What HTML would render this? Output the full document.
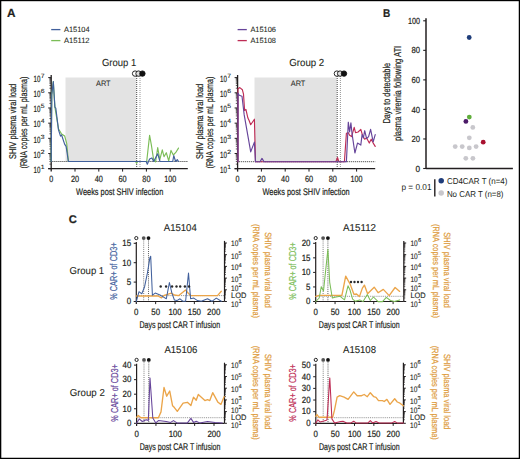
<!DOCTYPE html>
<html><head><meta charset="utf-8"><style>
html,body{margin:0;padding:0;background:#fff;}
svg{display:block;}
text{font-family:"Liberation Sans",sans-serif;text-rendering:geometricPrecision;}
</style></head><body>
<svg width="520" height="459" viewBox="0 0 520 459"><g fill="#231f20">
<rect x="0" y="0" width="520" height="459" fill="#000"/>
<rect x="1.3" y="1.2" width="517.45" height="456.55" fill="#fff"/>
<text x="7" y="16.8" font-size="11.8" font-weight="bold" stroke="#231f20" stroke-width="0.2">A</text>
<text x="383" y="16.5" font-size="11.4" textLength="7.3" lengthAdjust="spacingAndGlyphs" font-weight="bold" stroke="#231f20" stroke-width="0.2">B</text>
<text x="68.8" y="223.2" font-size="11.2" font-weight="bold" stroke="#231f20" stroke-width="0.2">C</text>
<line x1="51.2" y1="29.6" x2="60.4" y2="29.6" stroke="#41609c" stroke-width="1.3" stroke-linecap="butt"/>
<text x="64" y="32" font-size="7.5" textLength="25.6" lengthAdjust="spacingAndGlyphs" stroke="#231f20" stroke-width="0.08">A15104</text>
<line x1="51.2" y1="40.6" x2="60.4" y2="40.6" stroke="#7bbd57" stroke-width="1.3" stroke-linecap="butt"/>
<text x="64" y="43" font-size="7.5" textLength="25.6" lengthAdjust="spacingAndGlyphs" stroke="#231f20" stroke-width="0.08">A15112</text>
<text x="119.05" y="66.3" font-size="10.2" text-anchor="middle" textLength="34.3" lengthAdjust="spacingAndGlyphs" stroke="#231f20" stroke-width="0.08">Group 1</text>
<rect x="65.5" y="77.5" width="70.8" height="84" fill="#e3e3e3"/>
<text x="103.3" y="86" font-size="7.9" text-anchor="middle" textLength="14.6" lengthAdjust="spacingAndGlyphs">ART</text>
<line x1="52.4" y1="161.5" x2="187.8" y2="161.5" stroke="#222" stroke-width="0.95" stroke-linecap="butt" stroke-dasharray="1 1"/>
<line x1="136.7" y1="76" x2="136.7" y2="168.7" stroke="#333" stroke-width="0.9" stroke-linecap="butt" stroke-dasharray="1 1"/>
<line x1="140" y1="76" x2="140" y2="168.7" stroke="#8a8a8a" stroke-width="0.9" stroke-linecap="butt" stroke-dasharray="1 1"/>
<circle cx="135.1" cy="73.6" r="2.7" fill="#fff" stroke="#111" stroke-width="0.9"/>
<circle cx="138.5" cy="73.6" r="2.7" fill="#ddd" stroke="#111" stroke-width="0.9"/>
<circle cx="142.4" cy="73.6" r="2.7" fill="#111" stroke="#111" stroke-width="0.9"/>
<line x1="51.2" y1="75" x2="51.2" y2="171.6" stroke="#231f20" stroke-width="1.3" stroke-linecap="butt"/>
<line x1="48.2" y1="168.7" x2="187.8" y2="168.7" stroke="#231f20" stroke-width="1.3" stroke-linecap="butt"/>
<line x1="48.2" y1="168.7" x2="51.2" y2="168.7" stroke="#231f20" stroke-width="1" stroke-linecap="butt"/>
<text x="33.6" y="173" font-size="9" textLength="6.9" lengthAdjust="spacingAndGlyphs" stroke="#231f20" stroke-width="0.2">10</text>
<text x="40.8" y="169" font-size="6" textLength="3.8" lengthAdjust="spacingAndGlyphs" stroke="#231f20" stroke-width="0.1">1</text>
<line x1="49.4" y1="164.13" x2="51.2" y2="164.13" stroke="#231f20" stroke-width="0.7" stroke-linecap="butt"/>
<line x1="49.4" y1="161.46" x2="51.2" y2="161.46" stroke="#231f20" stroke-width="0.7" stroke-linecap="butt"/>
<line x1="49.4" y1="159.56" x2="51.2" y2="159.56" stroke="#231f20" stroke-width="0.7" stroke-linecap="butt"/>
<line x1="49.4" y1="158.09" x2="51.2" y2="158.09" stroke="#231f20" stroke-width="0.7" stroke-linecap="butt"/>
<line x1="49.4" y1="156.89" x2="51.2" y2="156.89" stroke="#231f20" stroke-width="0.7" stroke-linecap="butt"/>
<line x1="49.4" y1="155.87" x2="51.2" y2="155.87" stroke="#231f20" stroke-width="0.7" stroke-linecap="butt"/>
<line x1="49.4" y1="154.99" x2="51.2" y2="154.99" stroke="#231f20" stroke-width="0.7" stroke-linecap="butt"/>
<line x1="49.4" y1="154.21" x2="51.2" y2="154.21" stroke="#231f20" stroke-width="0.7" stroke-linecap="butt"/>
<line x1="48.2" y1="153.52" x2="51.2" y2="153.52" stroke="#231f20" stroke-width="1" stroke-linecap="butt"/>
<text x="33.6" y="157.82" font-size="9" textLength="6.9" lengthAdjust="spacingAndGlyphs" stroke="#231f20" stroke-width="0.2">10</text>
<text x="40.8" y="153.82" font-size="6" textLength="3.8" lengthAdjust="spacingAndGlyphs" stroke="#231f20" stroke-width="0.1">2</text>
<line x1="49.4" y1="148.95" x2="51.2" y2="148.95" stroke="#231f20" stroke-width="0.7" stroke-linecap="butt"/>
<line x1="49.4" y1="146.28" x2="51.2" y2="146.28" stroke="#231f20" stroke-width="0.7" stroke-linecap="butt"/>
<line x1="49.4" y1="144.38" x2="51.2" y2="144.38" stroke="#231f20" stroke-width="0.7" stroke-linecap="butt"/>
<line x1="49.4" y1="142.91" x2="51.2" y2="142.91" stroke="#231f20" stroke-width="0.7" stroke-linecap="butt"/>
<line x1="49.4" y1="141.71" x2="51.2" y2="141.71" stroke="#231f20" stroke-width="0.7" stroke-linecap="butt"/>
<line x1="49.4" y1="140.69" x2="51.2" y2="140.69" stroke="#231f20" stroke-width="0.7" stroke-linecap="butt"/>
<line x1="49.4" y1="139.81" x2="51.2" y2="139.81" stroke="#231f20" stroke-width="0.7" stroke-linecap="butt"/>
<line x1="49.4" y1="139.03" x2="51.2" y2="139.03" stroke="#231f20" stroke-width="0.7" stroke-linecap="butt"/>
<line x1="48.2" y1="138.34" x2="51.2" y2="138.34" stroke="#231f20" stroke-width="1" stroke-linecap="butt"/>
<text x="33.6" y="142.64" font-size="9" textLength="6.9" lengthAdjust="spacingAndGlyphs" stroke="#231f20" stroke-width="0.2">10</text>
<text x="40.8" y="138.64" font-size="6" textLength="3.8" lengthAdjust="spacingAndGlyphs" stroke="#231f20" stroke-width="0.1">3</text>
<line x1="49.4" y1="133.77" x2="51.2" y2="133.77" stroke="#231f20" stroke-width="0.7" stroke-linecap="butt"/>
<line x1="49.4" y1="131.1" x2="51.2" y2="131.1" stroke="#231f20" stroke-width="0.7" stroke-linecap="butt"/>
<line x1="49.4" y1="129.2" x2="51.2" y2="129.2" stroke="#231f20" stroke-width="0.7" stroke-linecap="butt"/>
<line x1="49.4" y1="127.73" x2="51.2" y2="127.73" stroke="#231f20" stroke-width="0.7" stroke-linecap="butt"/>
<line x1="49.4" y1="126.53" x2="51.2" y2="126.53" stroke="#231f20" stroke-width="0.7" stroke-linecap="butt"/>
<line x1="49.4" y1="125.51" x2="51.2" y2="125.51" stroke="#231f20" stroke-width="0.7" stroke-linecap="butt"/>
<line x1="49.4" y1="124.63" x2="51.2" y2="124.63" stroke="#231f20" stroke-width="0.7" stroke-linecap="butt"/>
<line x1="49.4" y1="123.85" x2="51.2" y2="123.85" stroke="#231f20" stroke-width="0.7" stroke-linecap="butt"/>
<line x1="48.2" y1="123.16" x2="51.2" y2="123.16" stroke="#231f20" stroke-width="1" stroke-linecap="butt"/>
<text x="33.6" y="127.46" font-size="9" textLength="6.9" lengthAdjust="spacingAndGlyphs" stroke="#231f20" stroke-width="0.2">10</text>
<text x="40.8" y="123.46" font-size="6" textLength="3.8" lengthAdjust="spacingAndGlyphs" stroke="#231f20" stroke-width="0.1">4</text>
<line x1="49.4" y1="118.59" x2="51.2" y2="118.59" stroke="#231f20" stroke-width="0.7" stroke-linecap="butt"/>
<line x1="49.4" y1="115.92" x2="51.2" y2="115.92" stroke="#231f20" stroke-width="0.7" stroke-linecap="butt"/>
<line x1="49.4" y1="114.02" x2="51.2" y2="114.02" stroke="#231f20" stroke-width="0.7" stroke-linecap="butt"/>
<line x1="49.4" y1="112.55" x2="51.2" y2="112.55" stroke="#231f20" stroke-width="0.7" stroke-linecap="butt"/>
<line x1="49.4" y1="111.35" x2="51.2" y2="111.35" stroke="#231f20" stroke-width="0.7" stroke-linecap="butt"/>
<line x1="49.4" y1="110.33" x2="51.2" y2="110.33" stroke="#231f20" stroke-width="0.7" stroke-linecap="butt"/>
<line x1="49.4" y1="109.45" x2="51.2" y2="109.45" stroke="#231f20" stroke-width="0.7" stroke-linecap="butt"/>
<line x1="49.4" y1="108.67" x2="51.2" y2="108.67" stroke="#231f20" stroke-width="0.7" stroke-linecap="butt"/>
<line x1="48.2" y1="107.98" x2="51.2" y2="107.98" stroke="#231f20" stroke-width="1" stroke-linecap="butt"/>
<text x="33.6" y="112.28" font-size="9" textLength="6.9" lengthAdjust="spacingAndGlyphs" stroke="#231f20" stroke-width="0.2">10</text>
<text x="40.8" y="108.28" font-size="6" textLength="3.8" lengthAdjust="spacingAndGlyphs" stroke="#231f20" stroke-width="0.1">5</text>
<line x1="49.4" y1="103.41" x2="51.2" y2="103.41" stroke="#231f20" stroke-width="0.7" stroke-linecap="butt"/>
<line x1="49.4" y1="100.74" x2="51.2" y2="100.74" stroke="#231f20" stroke-width="0.7" stroke-linecap="butt"/>
<line x1="49.4" y1="98.84" x2="51.2" y2="98.84" stroke="#231f20" stroke-width="0.7" stroke-linecap="butt"/>
<line x1="49.4" y1="97.37" x2="51.2" y2="97.37" stroke="#231f20" stroke-width="0.7" stroke-linecap="butt"/>
<line x1="49.4" y1="96.17" x2="51.2" y2="96.17" stroke="#231f20" stroke-width="0.7" stroke-linecap="butt"/>
<line x1="49.4" y1="95.15" x2="51.2" y2="95.15" stroke="#231f20" stroke-width="0.7" stroke-linecap="butt"/>
<line x1="49.4" y1="94.27" x2="51.2" y2="94.27" stroke="#231f20" stroke-width="0.7" stroke-linecap="butt"/>
<line x1="49.4" y1="93.49" x2="51.2" y2="93.49" stroke="#231f20" stroke-width="0.7" stroke-linecap="butt"/>
<line x1="48.2" y1="92.8" x2="51.2" y2="92.8" stroke="#231f20" stroke-width="1" stroke-linecap="butt"/>
<text x="33.6" y="97.1" font-size="9" textLength="6.9" lengthAdjust="spacingAndGlyphs" stroke="#231f20" stroke-width="0.2">10</text>
<text x="40.8" y="93.1" font-size="6" textLength="3.8" lengthAdjust="spacingAndGlyphs" stroke="#231f20" stroke-width="0.1">6</text>
<line x1="49.4" y1="88.23" x2="51.2" y2="88.23" stroke="#231f20" stroke-width="0.7" stroke-linecap="butt"/>
<line x1="49.4" y1="85.56" x2="51.2" y2="85.56" stroke="#231f20" stroke-width="0.7" stroke-linecap="butt"/>
<line x1="49.4" y1="83.66" x2="51.2" y2="83.66" stroke="#231f20" stroke-width="0.7" stroke-linecap="butt"/>
<line x1="49.4" y1="82.19" x2="51.2" y2="82.19" stroke="#231f20" stroke-width="0.7" stroke-linecap="butt"/>
<line x1="49.4" y1="80.99" x2="51.2" y2="80.99" stroke="#231f20" stroke-width="0.7" stroke-linecap="butt"/>
<line x1="49.4" y1="79.97" x2="51.2" y2="79.97" stroke="#231f20" stroke-width="0.7" stroke-linecap="butt"/>
<line x1="49.4" y1="79.09" x2="51.2" y2="79.09" stroke="#231f20" stroke-width="0.7" stroke-linecap="butt"/>
<line x1="49.4" y1="78.31" x2="51.2" y2="78.31" stroke="#231f20" stroke-width="0.7" stroke-linecap="butt"/>
<line x1="48.2" y1="77.62" x2="51.2" y2="77.62" stroke="#231f20" stroke-width="1" stroke-linecap="butt"/>
<text x="33.6" y="81.92" font-size="9" textLength="6.9" lengthAdjust="spacingAndGlyphs" stroke="#231f20" stroke-width="0.2">10</text>
<text x="40.8" y="77.92" font-size="6" textLength="3.8" lengthAdjust="spacingAndGlyphs" stroke="#231f20" stroke-width="0.1">7</text>
<text x="51.2" y="181.7" font-size="9" text-anchor="middle" textLength="4" lengthAdjust="spacingAndGlyphs" stroke="#231f20" stroke-width="0.2">0</text>
<line x1="75" y1="168.7" x2="75" y2="171.6" stroke="#231f20" stroke-width="1" stroke-linecap="butt"/>
<text x="75" y="181.7" font-size="9" text-anchor="middle" textLength="8.2" lengthAdjust="spacingAndGlyphs" stroke="#231f20" stroke-width="0.2">20</text>
<line x1="98.8" y1="168.7" x2="98.8" y2="171.6" stroke="#231f20" stroke-width="1" stroke-linecap="butt"/>
<text x="98.8" y="181.7" font-size="9" text-anchor="middle" textLength="8.2" lengthAdjust="spacingAndGlyphs" stroke="#231f20" stroke-width="0.2">40</text>
<line x1="122.6" y1="168.7" x2="122.6" y2="171.6" stroke="#231f20" stroke-width="1" stroke-linecap="butt"/>
<text x="122.6" y="181.7" font-size="9" text-anchor="middle" textLength="8.2" lengthAdjust="spacingAndGlyphs" stroke="#231f20" stroke-width="0.2">60</text>
<line x1="146.4" y1="168.7" x2="146.4" y2="171.6" stroke="#231f20" stroke-width="1" stroke-linecap="butt"/>
<text x="146.4" y="181.7" font-size="9" text-anchor="middle" textLength="8.2" lengthAdjust="spacingAndGlyphs" stroke="#231f20" stroke-width="0.2">80</text>
<line x1="170.2" y1="168.7" x2="170.2" y2="171.6" stroke="#231f20" stroke-width="1" stroke-linecap="butt"/>
<text x="170.2" y="181.7" font-size="9" text-anchor="middle" textLength="12" lengthAdjust="spacingAndGlyphs" stroke="#231f20" stroke-width="0.2">100</text>
<text x="119.7" y="194.8" font-size="9.6" text-anchor="middle" textLength="87.2" lengthAdjust="spacingAndGlyphs" stroke="#231f20" stroke-width="0.2">Weeks post SHIV infection</text>
<text x="16.2" y="121.4" font-size="9.8" text-anchor="middle" textLength="75.3" lengthAdjust="spacingAndGlyphs" stroke="#231f20" stroke-width="0.2" transform="rotate(-90 16.2 121.4)">SHIV plasma viral load</text>
<text x="26.6" y="122.5" font-size="9.8" text-anchor="middle" textLength="92" lengthAdjust="spacingAndGlyphs" stroke="#231f20" stroke-width="0.2" transform="rotate(-90 26.6 122.5)">(RNA copies per mL plasma)</text>
<polyline points="51.2,161.5 51.8,94.7 53.3,81.6 54.9,107.1 58.5,128.8 61.6,134 64.7,136.1 66.7,143.3 68.4,161.5 135.5,161.5 136.6,163.3 137.6,161.5 146.7,161.5 149.6,135.4 151.3,144.6 153.7,160.2 155.6,161.9 157.7,147.5 159.8,159.6 162.3,149.8 164,156.7 166.3,152.7 168.7,160.8 171,150.4 173.3,155 175.6,152.7 178.5,148.1" fill="none" stroke="#7bbd57" stroke-width="1.15" stroke-linejoin="round" stroke-linecap="round"/>
<polyline points="51.2,161.5 51.8,94.7 53.3,81.6 54.9,107.1 55.8,108.1 58.5,129.9 60.5,136.1 61.6,135 64.7,144.4 66.1,146.4 68.4,161.5 146.2,161.5 147.3,164.2 149.6,159 151.9,157.9 153.7,161.5 157.7,153.8 160,161.5 172.7,161.5 173.8,155.6 175.6,161.5 177.3,159.6 178.5,161.5" fill="none" stroke="#41609c" stroke-width="1.15" stroke-linejoin="round" stroke-linecap="round"/>
<line x1="237.6" y1="29.6" x2="246.8" y2="29.6" stroke="#66449a" stroke-width="1.3" stroke-linecap="butt"/>
<text x="250.4" y="32" font-size="7.5" textLength="25.6" lengthAdjust="spacingAndGlyphs" stroke="#231f20" stroke-width="0.08">A15106</text>
<line x1="237.6" y1="40.6" x2="246.8" y2="40.6" stroke="#be2c55" stroke-width="1.3" stroke-linecap="butt"/>
<text x="250.4" y="43" font-size="7.5" textLength="25.6" lengthAdjust="spacingAndGlyphs" stroke="#231f20" stroke-width="0.08">A15108</text>
<text x="306.75" y="66.3" font-size="10.2" text-anchor="middle" textLength="35" lengthAdjust="spacingAndGlyphs" stroke="#231f20" stroke-width="0.08">Group 2</text>
<rect x="254.5" y="77.5" width="82.3" height="84.2" fill="#e3e3e3"/>
<text x="298.05" y="86" font-size="7.9" text-anchor="middle" textLength="14.6" lengthAdjust="spacingAndGlyphs">ART</text>
<line x1="238.8" y1="161.7" x2="375.2" y2="161.7" stroke="#222" stroke-width="0.95" stroke-linecap="butt" stroke-dasharray="1 1"/>
<line x1="337.2" y1="76" x2="337.2" y2="168.7" stroke="#333" stroke-width="0.9" stroke-linecap="butt" stroke-dasharray="1 1"/>
<line x1="340.4" y1="76" x2="340.4" y2="168.7" stroke="#8a8a8a" stroke-width="0.9" stroke-linecap="butt" stroke-dasharray="1 1"/>
<circle cx="336.9" cy="73.6" r="2.7" fill="#fff" stroke="#111" stroke-width="0.9"/>
<circle cx="340.1" cy="73.6" r="2.7" fill="#ddd" stroke="#111" stroke-width="0.9"/>
<circle cx="344" cy="73.6" r="2.7" fill="#111" stroke="#111" stroke-width="0.9"/>
<line x1="237.6" y1="75" x2="237.6" y2="171.6" stroke="#231f20" stroke-width="1.3" stroke-linecap="butt"/>
<line x1="234.6" y1="168.7" x2="375.2" y2="168.7" stroke="#231f20" stroke-width="1.3" stroke-linecap="butt"/>
<line x1="234.6" y1="168.7" x2="237.6" y2="168.7" stroke="#231f20" stroke-width="1" stroke-linecap="butt"/>
<text x="220" y="173" font-size="9" textLength="6.9" lengthAdjust="spacingAndGlyphs" stroke="#231f20" stroke-width="0.2">10</text>
<text x="227.2" y="169" font-size="6" textLength="3.8" lengthAdjust="spacingAndGlyphs" stroke="#231f20" stroke-width="0.1">1</text>
<line x1="235.8" y1="164.13" x2="237.6" y2="164.13" stroke="#231f20" stroke-width="0.7" stroke-linecap="butt"/>
<line x1="235.8" y1="161.46" x2="237.6" y2="161.46" stroke="#231f20" stroke-width="0.7" stroke-linecap="butt"/>
<line x1="235.8" y1="159.56" x2="237.6" y2="159.56" stroke="#231f20" stroke-width="0.7" stroke-linecap="butt"/>
<line x1="235.8" y1="158.09" x2="237.6" y2="158.09" stroke="#231f20" stroke-width="0.7" stroke-linecap="butt"/>
<line x1="235.8" y1="156.89" x2="237.6" y2="156.89" stroke="#231f20" stroke-width="0.7" stroke-linecap="butt"/>
<line x1="235.8" y1="155.87" x2="237.6" y2="155.87" stroke="#231f20" stroke-width="0.7" stroke-linecap="butt"/>
<line x1="235.8" y1="154.99" x2="237.6" y2="154.99" stroke="#231f20" stroke-width="0.7" stroke-linecap="butt"/>
<line x1="235.8" y1="154.21" x2="237.6" y2="154.21" stroke="#231f20" stroke-width="0.7" stroke-linecap="butt"/>
<line x1="234.6" y1="153.52" x2="237.6" y2="153.52" stroke="#231f20" stroke-width="1" stroke-linecap="butt"/>
<text x="220" y="157.82" font-size="9" textLength="6.9" lengthAdjust="spacingAndGlyphs" stroke="#231f20" stroke-width="0.2">10</text>
<text x="227.2" y="153.82" font-size="6" textLength="3.8" lengthAdjust="spacingAndGlyphs" stroke="#231f20" stroke-width="0.1">2</text>
<line x1="235.8" y1="148.95" x2="237.6" y2="148.95" stroke="#231f20" stroke-width="0.7" stroke-linecap="butt"/>
<line x1="235.8" y1="146.28" x2="237.6" y2="146.28" stroke="#231f20" stroke-width="0.7" stroke-linecap="butt"/>
<line x1="235.8" y1="144.38" x2="237.6" y2="144.38" stroke="#231f20" stroke-width="0.7" stroke-linecap="butt"/>
<line x1="235.8" y1="142.91" x2="237.6" y2="142.91" stroke="#231f20" stroke-width="0.7" stroke-linecap="butt"/>
<line x1="235.8" y1="141.71" x2="237.6" y2="141.71" stroke="#231f20" stroke-width="0.7" stroke-linecap="butt"/>
<line x1="235.8" y1="140.69" x2="237.6" y2="140.69" stroke="#231f20" stroke-width="0.7" stroke-linecap="butt"/>
<line x1="235.8" y1="139.81" x2="237.6" y2="139.81" stroke="#231f20" stroke-width="0.7" stroke-linecap="butt"/>
<line x1="235.8" y1="139.03" x2="237.6" y2="139.03" stroke="#231f20" stroke-width="0.7" stroke-linecap="butt"/>
<line x1="234.6" y1="138.34" x2="237.6" y2="138.34" stroke="#231f20" stroke-width="1" stroke-linecap="butt"/>
<text x="220" y="142.64" font-size="9" textLength="6.9" lengthAdjust="spacingAndGlyphs" stroke="#231f20" stroke-width="0.2">10</text>
<text x="227.2" y="138.64" font-size="6" textLength="3.8" lengthAdjust="spacingAndGlyphs" stroke="#231f20" stroke-width="0.1">3</text>
<line x1="235.8" y1="133.77" x2="237.6" y2="133.77" stroke="#231f20" stroke-width="0.7" stroke-linecap="butt"/>
<line x1="235.8" y1="131.1" x2="237.6" y2="131.1" stroke="#231f20" stroke-width="0.7" stroke-linecap="butt"/>
<line x1="235.8" y1="129.2" x2="237.6" y2="129.2" stroke="#231f20" stroke-width="0.7" stroke-linecap="butt"/>
<line x1="235.8" y1="127.73" x2="237.6" y2="127.73" stroke="#231f20" stroke-width="0.7" stroke-linecap="butt"/>
<line x1="235.8" y1="126.53" x2="237.6" y2="126.53" stroke="#231f20" stroke-width="0.7" stroke-linecap="butt"/>
<line x1="235.8" y1="125.51" x2="237.6" y2="125.51" stroke="#231f20" stroke-width="0.7" stroke-linecap="butt"/>
<line x1="235.8" y1="124.63" x2="237.6" y2="124.63" stroke="#231f20" stroke-width="0.7" stroke-linecap="butt"/>
<line x1="235.8" y1="123.85" x2="237.6" y2="123.85" stroke="#231f20" stroke-width="0.7" stroke-linecap="butt"/>
<line x1="234.6" y1="123.16" x2="237.6" y2="123.16" stroke="#231f20" stroke-width="1" stroke-linecap="butt"/>
<text x="220" y="127.46" font-size="9" textLength="6.9" lengthAdjust="spacingAndGlyphs" stroke="#231f20" stroke-width="0.2">10</text>
<text x="227.2" y="123.46" font-size="6" textLength="3.8" lengthAdjust="spacingAndGlyphs" stroke="#231f20" stroke-width="0.1">4</text>
<line x1="235.8" y1="118.59" x2="237.6" y2="118.59" stroke="#231f20" stroke-width="0.7" stroke-linecap="butt"/>
<line x1="235.8" y1="115.92" x2="237.6" y2="115.92" stroke="#231f20" stroke-width="0.7" stroke-linecap="butt"/>
<line x1="235.8" y1="114.02" x2="237.6" y2="114.02" stroke="#231f20" stroke-width="0.7" stroke-linecap="butt"/>
<line x1="235.8" y1="112.55" x2="237.6" y2="112.55" stroke="#231f20" stroke-width="0.7" stroke-linecap="butt"/>
<line x1="235.8" y1="111.35" x2="237.6" y2="111.35" stroke="#231f20" stroke-width="0.7" stroke-linecap="butt"/>
<line x1="235.8" y1="110.33" x2="237.6" y2="110.33" stroke="#231f20" stroke-width="0.7" stroke-linecap="butt"/>
<line x1="235.8" y1="109.45" x2="237.6" y2="109.45" stroke="#231f20" stroke-width="0.7" stroke-linecap="butt"/>
<line x1="235.8" y1="108.67" x2="237.6" y2="108.67" stroke="#231f20" stroke-width="0.7" stroke-linecap="butt"/>
<line x1="234.6" y1="107.98" x2="237.6" y2="107.98" stroke="#231f20" stroke-width="1" stroke-linecap="butt"/>
<text x="220" y="112.28" font-size="9" textLength="6.9" lengthAdjust="spacingAndGlyphs" stroke="#231f20" stroke-width="0.2">10</text>
<text x="227.2" y="108.28" font-size="6" textLength="3.8" lengthAdjust="spacingAndGlyphs" stroke="#231f20" stroke-width="0.1">5</text>
<line x1="235.8" y1="103.41" x2="237.6" y2="103.41" stroke="#231f20" stroke-width="0.7" stroke-linecap="butt"/>
<line x1="235.8" y1="100.74" x2="237.6" y2="100.74" stroke="#231f20" stroke-width="0.7" stroke-linecap="butt"/>
<line x1="235.8" y1="98.84" x2="237.6" y2="98.84" stroke="#231f20" stroke-width="0.7" stroke-linecap="butt"/>
<line x1="235.8" y1="97.37" x2="237.6" y2="97.37" stroke="#231f20" stroke-width="0.7" stroke-linecap="butt"/>
<line x1="235.8" y1="96.17" x2="237.6" y2="96.17" stroke="#231f20" stroke-width="0.7" stroke-linecap="butt"/>
<line x1="235.8" y1="95.15" x2="237.6" y2="95.15" stroke="#231f20" stroke-width="0.7" stroke-linecap="butt"/>
<line x1="235.8" y1="94.27" x2="237.6" y2="94.27" stroke="#231f20" stroke-width="0.7" stroke-linecap="butt"/>
<line x1="235.8" y1="93.49" x2="237.6" y2="93.49" stroke="#231f20" stroke-width="0.7" stroke-linecap="butt"/>
<line x1="234.6" y1="92.8" x2="237.6" y2="92.8" stroke="#231f20" stroke-width="1" stroke-linecap="butt"/>
<text x="220" y="97.1" font-size="9" textLength="6.9" lengthAdjust="spacingAndGlyphs" stroke="#231f20" stroke-width="0.2">10</text>
<text x="227.2" y="93.1" font-size="6" textLength="3.8" lengthAdjust="spacingAndGlyphs" stroke="#231f20" stroke-width="0.1">6</text>
<line x1="235.8" y1="88.23" x2="237.6" y2="88.23" stroke="#231f20" stroke-width="0.7" stroke-linecap="butt"/>
<line x1="235.8" y1="85.56" x2="237.6" y2="85.56" stroke="#231f20" stroke-width="0.7" stroke-linecap="butt"/>
<line x1="235.8" y1="83.66" x2="237.6" y2="83.66" stroke="#231f20" stroke-width="0.7" stroke-linecap="butt"/>
<line x1="235.8" y1="82.19" x2="237.6" y2="82.19" stroke="#231f20" stroke-width="0.7" stroke-linecap="butt"/>
<line x1="235.8" y1="80.99" x2="237.6" y2="80.99" stroke="#231f20" stroke-width="0.7" stroke-linecap="butt"/>
<line x1="235.8" y1="79.97" x2="237.6" y2="79.97" stroke="#231f20" stroke-width="0.7" stroke-linecap="butt"/>
<line x1="235.8" y1="79.09" x2="237.6" y2="79.09" stroke="#231f20" stroke-width="0.7" stroke-linecap="butt"/>
<line x1="235.8" y1="78.31" x2="237.6" y2="78.31" stroke="#231f20" stroke-width="0.7" stroke-linecap="butt"/>
<line x1="234.6" y1="77.62" x2="237.6" y2="77.62" stroke="#231f20" stroke-width="1" stroke-linecap="butt"/>
<text x="220" y="81.92" font-size="9" textLength="6.9" lengthAdjust="spacingAndGlyphs" stroke="#231f20" stroke-width="0.2">10</text>
<text x="227.2" y="77.92" font-size="6" textLength="3.8" lengthAdjust="spacingAndGlyphs" stroke="#231f20" stroke-width="0.1">7</text>
<text x="237.6" y="181.7" font-size="9" text-anchor="middle" textLength="4" lengthAdjust="spacingAndGlyphs" stroke="#231f20" stroke-width="0.2">0</text>
<line x1="261.4" y1="168.7" x2="261.4" y2="171.6" stroke="#231f20" stroke-width="1" stroke-linecap="butt"/>
<text x="261.4" y="181.7" font-size="9" text-anchor="middle" textLength="8.2" lengthAdjust="spacingAndGlyphs" stroke="#231f20" stroke-width="0.2">20</text>
<line x1="285.2" y1="168.7" x2="285.2" y2="171.6" stroke="#231f20" stroke-width="1" stroke-linecap="butt"/>
<text x="285.2" y="181.7" font-size="9" text-anchor="middle" textLength="8.2" lengthAdjust="spacingAndGlyphs" stroke="#231f20" stroke-width="0.2">40</text>
<line x1="309" y1="168.7" x2="309" y2="171.6" stroke="#231f20" stroke-width="1" stroke-linecap="butt"/>
<text x="309" y="181.7" font-size="9" text-anchor="middle" textLength="8.2" lengthAdjust="spacingAndGlyphs" stroke="#231f20" stroke-width="0.2">60</text>
<line x1="332.8" y1="168.7" x2="332.8" y2="171.6" stroke="#231f20" stroke-width="1" stroke-linecap="butt"/>
<text x="332.8" y="181.7" font-size="9" text-anchor="middle" textLength="8.2" lengthAdjust="spacingAndGlyphs" stroke="#231f20" stroke-width="0.2">80</text>
<line x1="356.6" y1="168.7" x2="356.6" y2="171.6" stroke="#231f20" stroke-width="1" stroke-linecap="butt"/>
<text x="356.6" y="181.7" font-size="9" text-anchor="middle" textLength="12" lengthAdjust="spacingAndGlyphs" stroke="#231f20" stroke-width="0.2">100</text>
<text x="306.1" y="194.8" font-size="9.6" text-anchor="middle" textLength="87.2" lengthAdjust="spacingAndGlyphs" stroke="#231f20" stroke-width="0.2">Weeks post SHIV infection</text>
<text x="202.6" y="121.4" font-size="9.8" text-anchor="middle" textLength="75.3" lengthAdjust="spacingAndGlyphs" stroke="#231f20" stroke-width="0.2" transform="rotate(-90 202.6 121.4)">SHIV plasma viral load</text>
<text x="213" y="122.5" font-size="9.8" text-anchor="middle" textLength="92" lengthAdjust="spacingAndGlyphs" stroke="#231f20" stroke-width="0.2" transform="rotate(-90 213 122.5)">(RNA copies per mL plasma)</text>
<polyline points="238,161.7 238,88.7 239.8,87.6 242.4,89.8 243.5,94.2 244.6,110.5 245.9,109.4 247.9,118.1 249,120.3 250.7,124.7 254.4,119.2 255.5,161.7 335.9,161.7 337.5,157.5 338.9,161.7 344.4,161.7 346.4,133.3 348.3,132.7 349.6,135.3 351.6,136.6 354.2,127.4 355.5,132.7 358.1,132 360.8,129.4 362.7,135.9 364.7,139.2 366.6,137.9 369.3,143.1 371.2,139.2 373.2,143.1 375.2,146.4" fill="none" stroke="#be2c55" stroke-width="1.15" stroke-linejoin="round" stroke-linecap="round"/>
<polyline points="238,161.7 238,93 239.2,95.3 242,96.3 244.2,114.9 250.7,151.9 254.4,142.1 255.5,161.7 260,161.7 262,158.4 264,161.7 346.4,161.7 348.3,122.2 349.6,132 350.9,122.9 352,133.3 354.9,153 357.5,143.1 360.8,145.1 362.1,134.6 363.4,137.9 364.7,130.7 366.6,138.6 368.6,136.6 370.6,129.4 373.2,141.8 375.2,134.6" fill="none" stroke="#66449a" stroke-width="1.15" stroke-linejoin="round" stroke-linecap="round"/>
<line x1="426" y1="18.2" x2="426" y2="168.5" stroke="#231f20" stroke-width="1.5" stroke-linecap="butt"/>
<line x1="426" y1="168.6" x2="512.9" y2="168.6" stroke="#231f20" stroke-width="1.5" stroke-linecap="butt"/>
<line x1="423.2" y1="168.5" x2="426" y2="168.5" stroke="#231f20" stroke-width="1.1" stroke-linecap="butt"/>
<text x="420" y="171.6" font-size="8.8" text-anchor="end" textLength="4.6" lengthAdjust="spacingAndGlyphs" stroke="#231f20" stroke-width="0.2">0</text>
<line x1="423.2" y1="138.96" x2="426" y2="138.96" stroke="#231f20" stroke-width="1.1" stroke-linecap="butt"/>
<text x="420" y="142.06" font-size="8.8" text-anchor="end" textLength="8.6" lengthAdjust="spacingAndGlyphs" stroke="#231f20" stroke-width="0.2">20</text>
<line x1="423.2" y1="109.42" x2="426" y2="109.42" stroke="#231f20" stroke-width="1.1" stroke-linecap="butt"/>
<text x="420" y="112.52" font-size="8.8" text-anchor="end" textLength="8.6" lengthAdjust="spacingAndGlyphs" stroke="#231f20" stroke-width="0.2">40</text>
<line x1="423.2" y1="79.88" x2="426" y2="79.88" stroke="#231f20" stroke-width="1.1" stroke-linecap="butt"/>
<text x="420" y="82.98" font-size="8.8" text-anchor="end" textLength="8.6" lengthAdjust="spacingAndGlyphs" stroke="#231f20" stroke-width="0.2">60</text>
<line x1="423.2" y1="50.34" x2="426" y2="50.34" stroke="#231f20" stroke-width="1.1" stroke-linecap="butt"/>
<text x="420" y="53.44" font-size="8.8" text-anchor="end" textLength="8.6" lengthAdjust="spacingAndGlyphs" stroke="#231f20" stroke-width="0.2">80</text>
<line x1="423.2" y1="20.8" x2="426" y2="20.8" stroke="#231f20" stroke-width="1.1" stroke-linecap="butt"/>
<text x="420" y="23.9" font-size="8.8" text-anchor="end" textLength="12.1" lengthAdjust="spacingAndGlyphs" stroke="#231f20" stroke-width="0.2">100</text>
<text x="389.8" y="93.2" font-size="10" text-anchor="middle" textLength="60.6" lengthAdjust="spacingAndGlyphs" stroke="#231f20" stroke-width="0.2" transform="rotate(-90 389.8 93.2)">Days to detectable</text>
<text x="401.3" y="93.4" font-size="10" text-anchor="middle" textLength="95.25" lengthAdjust="spacingAndGlyphs" stroke="#231f20" stroke-width="0.2" transform="rotate(-90 401.3 93.4)">plasma viremia following ATI</text>
<circle cx="469.2" cy="37.5" r="2.4" fill="#1f3d7a"/>
<circle cx="469.3" cy="117.1" r="2.4" fill="#5fae3a"/>
<circle cx="465.9" cy="121.4" r="2.4" fill="#4b1a68"/>
<circle cx="472.8" cy="127.4" r="2.4" fill="#c8c7cc"/>
<circle cx="469.3" cy="137.8" r="2.4" fill="#c8c7cc"/>
<circle cx="483.2" cy="142.2" r="2.4" fill="#a8102f"/>
<circle cx="455.2" cy="146.6" r="2.4" fill="#c8c7cc"/>
<circle cx="462.2" cy="146.6" r="2.4" fill="#c8c7cc"/>
<circle cx="469.3" cy="147.9" r="2.4" fill="#c8c7cc"/>
<circle cx="476.1" cy="146.6" r="2.4" fill="#c8c7cc"/>
<circle cx="465.8" cy="158.3" r="2.4" fill="#c8c7cc"/>
<circle cx="472.9" cy="158.3" r="2.4" fill="#c8c7cc"/>
<text x="416.5" y="189.6" font-size="8.6" text-anchor="middle" textLength="30" lengthAdjust="spacingAndGlyphs">p = 0.01</text>
<line x1="434.8" y1="179.2" x2="434.8" y2="196.5" stroke="#231f20" stroke-width="1.4" stroke-linecap="butt"/>
<circle cx="441.2" cy="180.8" r="2.75" fill="#1f3d7a"/>
<circle cx="441.2" cy="193.1" r="2.75" fill="#c8c7cc"/>
<text x="446.9" y="184.4" font-size="8.6" textLength="60.5" lengthAdjust="spacingAndGlyphs">CD4CAR T (n=4)</text>
<text x="446.9" y="196.6" font-size="8.6" textLength="56.6" lengthAdjust="spacingAndGlyphs">No CAR T (n=8)</text>
<text x="180.25" y="231.2" font-size="10" text-anchor="middle" textLength="33" lengthAdjust="spacingAndGlyphs" stroke="#231f20" stroke-width="0.1">A15104</text>
<line x1="137.3" y1="295.6" x2="224.5" y2="295.6" stroke="#8a8a8a" stroke-width="0.9" stroke-linecap="butt" stroke-dasharray="1 0.9"/>
<line x1="143.7" y1="240.5" x2="143.7" y2="301.5" stroke="#606060" stroke-width="0.8" stroke-linecap="butt" stroke-dasharray="1 1.1"/>
<line x1="148.5" y1="240.5" x2="148.5" y2="301.5" stroke="#333" stroke-width="0.8" stroke-linecap="butt" stroke-dasharray="1 1.1"/>
<circle cx="136.3" cy="238.1" r="1.6" fill="#fff" stroke="#111" stroke-width="0.9"/>
<circle cx="143.7" cy="238.1" r="1.9" fill="#555"/>
<circle cx="148.5" cy="238.1" r="1.9" fill="#111"/>
<line x1="136.3" y1="241.9" x2="136.3" y2="304.1" stroke="#231f20" stroke-width="1.2" stroke-linecap="butt"/>
<line x1="136.3" y1="301.5" x2="224.5" y2="301.5" stroke="#231f20" stroke-width="1.2" stroke-linecap="butt"/>
<line x1="224.5" y1="240.9" x2="224.5" y2="301.5" stroke="#231f20" stroke-width="1.2" stroke-linecap="butt"/>
<line x1="133.7" y1="301.5" x2="136.3" y2="301.5" stroke="#231f20" stroke-width="1" stroke-linecap="butt"/>
<text x="131.1" y="304.3" font-size="9" text-anchor="end" textLength="4.4" lengthAdjust="spacingAndGlyphs" stroke="#231f20" stroke-width="0.2">0</text>
<line x1="133.7" y1="282.1" x2="136.3" y2="282.1" stroke="#231f20" stroke-width="1" stroke-linecap="butt"/>
<text x="131.1" y="284.9" font-size="9" text-anchor="end" textLength="4.4" lengthAdjust="spacingAndGlyphs" stroke="#231f20" stroke-width="0.2">5</text>
<line x1="133.7" y1="262.7" x2="136.3" y2="262.7" stroke="#231f20" stroke-width="1" stroke-linecap="butt"/>
<text x="131.1" y="265.5" font-size="9" text-anchor="end" textLength="8.8" lengthAdjust="spacingAndGlyphs" stroke="#231f20" stroke-width="0.2">10</text>
<line x1="133.7" y1="243.3" x2="136.3" y2="243.3" stroke="#231f20" stroke-width="1" stroke-linecap="butt"/>
<text x="131.1" y="246.1" font-size="9" text-anchor="end" textLength="8.8" lengthAdjust="spacingAndGlyphs" stroke="#231f20" stroke-width="0.2">15</text>
<text x="136.3" y="314.7" font-size="9" text-anchor="middle" textLength="4.4" lengthAdjust="spacingAndGlyphs" stroke="#231f20" stroke-width="0.2">0</text>
<line x1="155.65" y1="301.5" x2="155.65" y2="304.1" stroke="#231f20" stroke-width="1" stroke-linecap="butt"/>
<text x="155.65" y="314.7" font-size="9" text-anchor="middle" textLength="8.8" lengthAdjust="spacingAndGlyphs" stroke="#231f20" stroke-width="0.2">50</text>
<line x1="175" y1="301.5" x2="175" y2="304.1" stroke="#231f20" stroke-width="1" stroke-linecap="butt"/>
<text x="175" y="314.7" font-size="9" text-anchor="middle" textLength="13.2" lengthAdjust="spacingAndGlyphs" stroke="#231f20" stroke-width="0.2">100</text>
<line x1="194.35" y1="301.5" x2="194.35" y2="304.1" stroke="#231f20" stroke-width="1" stroke-linecap="butt"/>
<text x="194.35" y="314.7" font-size="9" text-anchor="middle" textLength="13.2" lengthAdjust="spacingAndGlyphs" stroke="#231f20" stroke-width="0.2">150</text>
<line x1="213.7" y1="301.5" x2="213.7" y2="304.1" stroke="#231f20" stroke-width="1" stroke-linecap="butt"/>
<text x="213.7" y="314.7" font-size="9" text-anchor="middle" textLength="13.2" lengthAdjust="spacingAndGlyphs" stroke="#231f20" stroke-width="0.2">200</text>
<text x="179.8" y="328.2" font-size="9.8" text-anchor="middle" textLength="80.8" lengthAdjust="spacingAndGlyphs" stroke="#231f20" stroke-width="0.2">Days post CAR T infusion</text>
<line x1="224.5" y1="301.5" x2="226.9" y2="301.5" stroke="#231f20" stroke-width="1" stroke-linecap="butt"/>
<line x1="224.5" y1="297.98" x2="226" y2="297.98" stroke="#231f20" stroke-width="0.7" stroke-linecap="butt"/>
<line x1="224.5" y1="295.92" x2="226" y2="295.92" stroke="#231f20" stroke-width="0.7" stroke-linecap="butt"/>
<line x1="224.5" y1="294.46" x2="226" y2="294.46" stroke="#231f20" stroke-width="0.7" stroke-linecap="butt"/>
<line x1="224.5" y1="293.32" x2="226" y2="293.32" stroke="#231f20" stroke-width="0.7" stroke-linecap="butt"/>
<line x1="224.5" y1="292.4" x2="226" y2="292.4" stroke="#231f20" stroke-width="0.7" stroke-linecap="butt"/>
<line x1="224.5" y1="291.61" x2="226" y2="291.61" stroke="#231f20" stroke-width="0.7" stroke-linecap="butt"/>
<line x1="224.5" y1="290.93" x2="226" y2="290.93" stroke="#231f20" stroke-width="0.7" stroke-linecap="butt"/>
<line x1="224.5" y1="290.34" x2="226" y2="290.34" stroke="#231f20" stroke-width="0.7" stroke-linecap="butt"/>
<line x1="224.5" y1="289.8" x2="226.9" y2="289.8" stroke="#231f20" stroke-width="1" stroke-linecap="butt"/>
<line x1="224.5" y1="286.28" x2="226" y2="286.28" stroke="#231f20" stroke-width="0.7" stroke-linecap="butt"/>
<line x1="224.5" y1="284.22" x2="226" y2="284.22" stroke="#231f20" stroke-width="0.7" stroke-linecap="butt"/>
<line x1="224.5" y1="282.76" x2="226" y2="282.76" stroke="#231f20" stroke-width="0.7" stroke-linecap="butt"/>
<line x1="224.5" y1="281.62" x2="226" y2="281.62" stroke="#231f20" stroke-width="0.7" stroke-linecap="butt"/>
<line x1="224.5" y1="280.7" x2="226" y2="280.7" stroke="#231f20" stroke-width="0.7" stroke-linecap="butt"/>
<line x1="224.5" y1="279.91" x2="226" y2="279.91" stroke="#231f20" stroke-width="0.7" stroke-linecap="butt"/>
<line x1="224.5" y1="279.23" x2="226" y2="279.23" stroke="#231f20" stroke-width="0.7" stroke-linecap="butt"/>
<line x1="224.5" y1="278.64" x2="226" y2="278.64" stroke="#231f20" stroke-width="0.7" stroke-linecap="butt"/>
<line x1="224.5" y1="278.1" x2="226.9" y2="278.1" stroke="#231f20" stroke-width="1" stroke-linecap="butt"/>
<line x1="224.5" y1="274.58" x2="226" y2="274.58" stroke="#231f20" stroke-width="0.7" stroke-linecap="butt"/>
<line x1="224.5" y1="272.52" x2="226" y2="272.52" stroke="#231f20" stroke-width="0.7" stroke-linecap="butt"/>
<line x1="224.5" y1="271.06" x2="226" y2="271.06" stroke="#231f20" stroke-width="0.7" stroke-linecap="butt"/>
<line x1="224.5" y1="269.92" x2="226" y2="269.92" stroke="#231f20" stroke-width="0.7" stroke-linecap="butt"/>
<line x1="224.5" y1="269" x2="226" y2="269" stroke="#231f20" stroke-width="0.7" stroke-linecap="butt"/>
<line x1="224.5" y1="268.21" x2="226" y2="268.21" stroke="#231f20" stroke-width="0.7" stroke-linecap="butt"/>
<line x1="224.5" y1="267.53" x2="226" y2="267.53" stroke="#231f20" stroke-width="0.7" stroke-linecap="butt"/>
<line x1="224.5" y1="266.94" x2="226" y2="266.94" stroke="#231f20" stroke-width="0.7" stroke-linecap="butt"/>
<line x1="224.5" y1="266.4" x2="226.9" y2="266.4" stroke="#231f20" stroke-width="1" stroke-linecap="butt"/>
<line x1="224.5" y1="262.88" x2="226" y2="262.88" stroke="#231f20" stroke-width="0.7" stroke-linecap="butt"/>
<line x1="224.5" y1="260.82" x2="226" y2="260.82" stroke="#231f20" stroke-width="0.7" stroke-linecap="butt"/>
<line x1="224.5" y1="259.36" x2="226" y2="259.36" stroke="#231f20" stroke-width="0.7" stroke-linecap="butt"/>
<line x1="224.5" y1="258.22" x2="226" y2="258.22" stroke="#231f20" stroke-width="0.7" stroke-linecap="butt"/>
<line x1="224.5" y1="257.3" x2="226" y2="257.3" stroke="#231f20" stroke-width="0.7" stroke-linecap="butt"/>
<line x1="224.5" y1="256.51" x2="226" y2="256.51" stroke="#231f20" stroke-width="0.7" stroke-linecap="butt"/>
<line x1="224.5" y1="255.83" x2="226" y2="255.83" stroke="#231f20" stroke-width="0.7" stroke-linecap="butt"/>
<line x1="224.5" y1="255.24" x2="226" y2="255.24" stroke="#231f20" stroke-width="0.7" stroke-linecap="butt"/>
<line x1="224.5" y1="254.7" x2="226.9" y2="254.7" stroke="#231f20" stroke-width="1" stroke-linecap="butt"/>
<line x1="224.5" y1="251.18" x2="226" y2="251.18" stroke="#231f20" stroke-width="0.7" stroke-linecap="butt"/>
<line x1="224.5" y1="249.12" x2="226" y2="249.12" stroke="#231f20" stroke-width="0.7" stroke-linecap="butt"/>
<line x1="224.5" y1="247.66" x2="226" y2="247.66" stroke="#231f20" stroke-width="0.7" stroke-linecap="butt"/>
<line x1="224.5" y1="246.52" x2="226" y2="246.52" stroke="#231f20" stroke-width="0.7" stroke-linecap="butt"/>
<line x1="224.5" y1="245.6" x2="226" y2="245.6" stroke="#231f20" stroke-width="0.7" stroke-linecap="butt"/>
<line x1="224.5" y1="244.81" x2="226" y2="244.81" stroke="#231f20" stroke-width="0.7" stroke-linecap="butt"/>
<line x1="224.5" y1="244.13" x2="226" y2="244.13" stroke="#231f20" stroke-width="0.7" stroke-linecap="butt"/>
<line x1="224.5" y1="243.54" x2="226" y2="243.54" stroke="#231f20" stroke-width="0.7" stroke-linecap="butt"/>
<line x1="224.5" y1="243" x2="226.9" y2="243" stroke="#231f20" stroke-width="1" stroke-linecap="butt"/>
<text x="231.1" y="246.2" font-size="8" textLength="7.3" lengthAdjust="spacingAndGlyphs" stroke="#231f20" stroke-width="0.12">10</text>
<text x="238.6" y="242.4" font-size="5.6" textLength="3.2" lengthAdjust="spacingAndGlyphs" stroke="#231f20" stroke-width="0.1">6</text>
<text x="231.1" y="258.5" font-size="8" textLength="7.3" lengthAdjust="spacingAndGlyphs" stroke="#231f20" stroke-width="0.12">10</text>
<text x="238.6" y="254.7" font-size="5.6" textLength="3.2" lengthAdjust="spacingAndGlyphs" stroke="#231f20" stroke-width="0.1">5</text>
<text x="231.1" y="270.3" font-size="8" textLength="7.3" lengthAdjust="spacingAndGlyphs" stroke="#231f20" stroke-width="0.12">10</text>
<text x="238.6" y="266.5" font-size="5.6" textLength="3.2" lengthAdjust="spacingAndGlyphs" stroke="#231f20" stroke-width="0.1">4</text>
<text x="231.1" y="282.15" font-size="8" textLength="7.3" lengthAdjust="spacingAndGlyphs" stroke="#231f20" stroke-width="0.12">10</text>
<text x="238.6" y="278.35" font-size="5.6" textLength="3.2" lengthAdjust="spacingAndGlyphs" stroke="#231f20" stroke-width="0.1">3</text>
<text x="231.1" y="291.25" font-size="8" textLength="7.3" lengthAdjust="spacingAndGlyphs" stroke="#231f20" stroke-width="0.12">10</text>
<text x="238.6" y="287.45" font-size="5.6" textLength="3.2" lengthAdjust="spacingAndGlyphs" stroke="#231f20" stroke-width="0.1">2</text>
<text x="231.1" y="306.55" font-size="8" textLength="7.3" lengthAdjust="spacingAndGlyphs" stroke="#231f20" stroke-width="0.12">10</text>
<text x="238.6" y="302.75" font-size="5.6" textLength="3.2" lengthAdjust="spacingAndGlyphs" stroke="#231f20" stroke-width="0.1">1</text>
<text x="231.1" y="298" font-size="7.9" textLength="15.3" lengthAdjust="spacingAndGlyphs" stroke="#231f20" stroke-width="0.12">LOD</text>
<text x="117" y="271.1" font-size="10" text-anchor="middle" textLength="57.5" lengthAdjust="spacingAndGlyphs" fill="#41609c" stroke="#41609c" stroke-width="0.2" transform="rotate(-90 117 271.1)">% CAR+ of CD3+</text>
<text x="265.3" y="269.9" font-size="9.2" text-anchor="middle" textLength="75.5" lengthAdjust="spacingAndGlyphs" fill="#de9c40" stroke="#de9c40" stroke-width="0.2" transform="rotate(90 265.3 269.9)">SHIV plasma viral load</text>
<text x="252.9" y="271" font-size="9.2" text-anchor="middle" textLength="94" lengthAdjust="spacingAndGlyphs" fill="#de9c40" stroke="#de9c40" stroke-width="0.2" transform="rotate(90 252.9 271)">(RNA copies per mL plasma)</text>
<polyline points="136.3,296 158,296 161.5,297.8 164,295.5 167.5,294.4 171.3,293.1 174.4,295 178.8,295.6 182.5,292.5 185.6,290 188.1,293.1 190.6,295.6 217.5,295.6 221.3,291.3" fill="none" stroke="#eba54a" stroke-width="1.35" stroke-linejoin="round" stroke-linecap="round"/>
<polyline points="136.3,301.5 139,291.7 141.8,293.8 144.6,286.7 147.5,272.6 149.9,257.7 150.7,256.3 152.4,295.2 155.2,293.1 160,295 163.1,296.9 166.3,298.8 169.4,282.5 171.9,293.1 174.4,300 176.9,300.6 180,298.8 183.1,301.3 185.6,301.3 188.5,273.1 190.6,298.8 193.8,298.1 197.5,300.6 201.3,301.3 207.5,298.8 211.9,301.3 216.3,298.1 221.3,301.3" fill="none" stroke="#41609c" stroke-width="1.05" stroke-linejoin="round" stroke-linecap="round"/>
<circle cx="160.7" cy="286.5" r="1.2" fill="#2a2a2a"/>
<circle cx="166.1" cy="286.5" r="1.2" fill="#2a2a2a"/>
<circle cx="172.1" cy="286.5" r="1.2" fill="#2a2a2a"/>
<circle cx="176.5" cy="286.5" r="1.2" fill="#2a2a2a"/>
<circle cx="180.2" cy="286.5" r="1.2" fill="#2a2a2a"/>
<circle cx="184.9" cy="286.5" r="1.2" fill="#2a2a2a"/>
<circle cx="189" cy="286.5" r="1.2" fill="#2a2a2a"/>
<text x="359.55" y="231.2" font-size="10" text-anchor="middle" textLength="33" lengthAdjust="spacingAndGlyphs" stroke="#231f20" stroke-width="0.1">A15112</text>
<line x1="316.7" y1="296.3" x2="403.8" y2="296.3" stroke="#8a8a8a" stroke-width="0.9" stroke-linecap="butt" stroke-dasharray="1 0.9"/>
<line x1="323.1" y1="240.5" x2="323.1" y2="301.5" stroke="#606060" stroke-width="0.8" stroke-linecap="butt" stroke-dasharray="1 1.1"/>
<line x1="327.9" y1="240.5" x2="327.9" y2="301.5" stroke="#333" stroke-width="0.8" stroke-linecap="butt" stroke-dasharray="1 1.1"/>
<circle cx="315.7" cy="238.1" r="1.6" fill="#fff" stroke="#111" stroke-width="0.9"/>
<circle cx="323.1" cy="238.1" r="1.9" fill="#555"/>
<circle cx="327.9" cy="238.1" r="1.9" fill="#111"/>
<line x1="315.7" y1="241.9" x2="315.7" y2="304.1" stroke="#231f20" stroke-width="1.2" stroke-linecap="butt"/>
<line x1="315.7" y1="301.5" x2="403.8" y2="301.5" stroke="#231f20" stroke-width="1.2" stroke-linecap="butt"/>
<line x1="403.8" y1="240.9" x2="403.8" y2="301.5" stroke="#231f20" stroke-width="1.2" stroke-linecap="butt"/>
<line x1="313.1" y1="301.5" x2="315.7" y2="301.5" stroke="#231f20" stroke-width="1" stroke-linecap="butt"/>
<text x="310.5" y="304.3" font-size="9" text-anchor="end" textLength="4.4" lengthAdjust="spacingAndGlyphs" stroke="#231f20" stroke-width="0.2">0</text>
<line x1="313.1" y1="286.95" x2="315.7" y2="286.95" stroke="#231f20" stroke-width="1" stroke-linecap="butt"/>
<text x="310.5" y="289.75" font-size="9" text-anchor="end" textLength="4.4" lengthAdjust="spacingAndGlyphs" stroke="#231f20" stroke-width="0.2">5</text>
<line x1="313.1" y1="272.4" x2="315.7" y2="272.4" stroke="#231f20" stroke-width="1" stroke-linecap="butt"/>
<text x="310.5" y="275.2" font-size="9" text-anchor="end" textLength="8.8" lengthAdjust="spacingAndGlyphs" stroke="#231f20" stroke-width="0.2">10</text>
<line x1="313.1" y1="257.85" x2="315.7" y2="257.85" stroke="#231f20" stroke-width="1" stroke-linecap="butt"/>
<text x="310.5" y="260.65" font-size="9" text-anchor="end" textLength="8.8" lengthAdjust="spacingAndGlyphs" stroke="#231f20" stroke-width="0.2">15</text>
<line x1="313.1" y1="243.3" x2="315.7" y2="243.3" stroke="#231f20" stroke-width="1" stroke-linecap="butt"/>
<text x="310.5" y="246.1" font-size="9" text-anchor="end" textLength="8.8" lengthAdjust="spacingAndGlyphs" stroke="#231f20" stroke-width="0.2">20</text>
<text x="315.7" y="314.7" font-size="9" text-anchor="middle" textLength="4.4" lengthAdjust="spacingAndGlyphs" stroke="#231f20" stroke-width="0.2">0</text>
<line x1="335.05" y1="301.5" x2="335.05" y2="304.1" stroke="#231f20" stroke-width="1" stroke-linecap="butt"/>
<text x="335.05" y="314.7" font-size="9" text-anchor="middle" textLength="8.8" lengthAdjust="spacingAndGlyphs" stroke="#231f20" stroke-width="0.2">50</text>
<line x1="354.4" y1="301.5" x2="354.4" y2="304.1" stroke="#231f20" stroke-width="1" stroke-linecap="butt"/>
<text x="354.4" y="314.7" font-size="9" text-anchor="middle" textLength="13.2" lengthAdjust="spacingAndGlyphs" stroke="#231f20" stroke-width="0.2">100</text>
<line x1="373.75" y1="301.5" x2="373.75" y2="304.1" stroke="#231f20" stroke-width="1" stroke-linecap="butt"/>
<text x="373.75" y="314.7" font-size="9" text-anchor="middle" textLength="13.2" lengthAdjust="spacingAndGlyphs" stroke="#231f20" stroke-width="0.2">150</text>
<line x1="393.1" y1="301.5" x2="393.1" y2="304.1" stroke="#231f20" stroke-width="1" stroke-linecap="butt"/>
<text x="393.1" y="314.7" font-size="9" text-anchor="middle" textLength="13.2" lengthAdjust="spacingAndGlyphs" stroke="#231f20" stroke-width="0.2">200</text>
<text x="359.2" y="328.2" font-size="9.8" text-anchor="middle" textLength="80.8" lengthAdjust="spacingAndGlyphs" stroke="#231f20" stroke-width="0.2">Days post CAR T infusion</text>
<line x1="403.8" y1="301.5" x2="406.2" y2="301.5" stroke="#231f20" stroke-width="1" stroke-linecap="butt"/>
<line x1="403.8" y1="297.98" x2="405.3" y2="297.98" stroke="#231f20" stroke-width="0.7" stroke-linecap="butt"/>
<line x1="403.8" y1="295.92" x2="405.3" y2="295.92" stroke="#231f20" stroke-width="0.7" stroke-linecap="butt"/>
<line x1="403.8" y1="294.46" x2="405.3" y2="294.46" stroke="#231f20" stroke-width="0.7" stroke-linecap="butt"/>
<line x1="403.8" y1="293.32" x2="405.3" y2="293.32" stroke="#231f20" stroke-width="0.7" stroke-linecap="butt"/>
<line x1="403.8" y1="292.4" x2="405.3" y2="292.4" stroke="#231f20" stroke-width="0.7" stroke-linecap="butt"/>
<line x1="403.8" y1="291.61" x2="405.3" y2="291.61" stroke="#231f20" stroke-width="0.7" stroke-linecap="butt"/>
<line x1="403.8" y1="290.93" x2="405.3" y2="290.93" stroke="#231f20" stroke-width="0.7" stroke-linecap="butt"/>
<line x1="403.8" y1="290.34" x2="405.3" y2="290.34" stroke="#231f20" stroke-width="0.7" stroke-linecap="butt"/>
<line x1="403.8" y1="289.8" x2="406.2" y2="289.8" stroke="#231f20" stroke-width="1" stroke-linecap="butt"/>
<line x1="403.8" y1="286.28" x2="405.3" y2="286.28" stroke="#231f20" stroke-width="0.7" stroke-linecap="butt"/>
<line x1="403.8" y1="284.22" x2="405.3" y2="284.22" stroke="#231f20" stroke-width="0.7" stroke-linecap="butt"/>
<line x1="403.8" y1="282.76" x2="405.3" y2="282.76" stroke="#231f20" stroke-width="0.7" stroke-linecap="butt"/>
<line x1="403.8" y1="281.62" x2="405.3" y2="281.62" stroke="#231f20" stroke-width="0.7" stroke-linecap="butt"/>
<line x1="403.8" y1="280.7" x2="405.3" y2="280.7" stroke="#231f20" stroke-width="0.7" stroke-linecap="butt"/>
<line x1="403.8" y1="279.91" x2="405.3" y2="279.91" stroke="#231f20" stroke-width="0.7" stroke-linecap="butt"/>
<line x1="403.8" y1="279.23" x2="405.3" y2="279.23" stroke="#231f20" stroke-width="0.7" stroke-linecap="butt"/>
<line x1="403.8" y1="278.64" x2="405.3" y2="278.64" stroke="#231f20" stroke-width="0.7" stroke-linecap="butt"/>
<line x1="403.8" y1="278.1" x2="406.2" y2="278.1" stroke="#231f20" stroke-width="1" stroke-linecap="butt"/>
<line x1="403.8" y1="274.58" x2="405.3" y2="274.58" stroke="#231f20" stroke-width="0.7" stroke-linecap="butt"/>
<line x1="403.8" y1="272.52" x2="405.3" y2="272.52" stroke="#231f20" stroke-width="0.7" stroke-linecap="butt"/>
<line x1="403.8" y1="271.06" x2="405.3" y2="271.06" stroke="#231f20" stroke-width="0.7" stroke-linecap="butt"/>
<line x1="403.8" y1="269.92" x2="405.3" y2="269.92" stroke="#231f20" stroke-width="0.7" stroke-linecap="butt"/>
<line x1="403.8" y1="269" x2="405.3" y2="269" stroke="#231f20" stroke-width="0.7" stroke-linecap="butt"/>
<line x1="403.8" y1="268.21" x2="405.3" y2="268.21" stroke="#231f20" stroke-width="0.7" stroke-linecap="butt"/>
<line x1="403.8" y1="267.53" x2="405.3" y2="267.53" stroke="#231f20" stroke-width="0.7" stroke-linecap="butt"/>
<line x1="403.8" y1="266.94" x2="405.3" y2="266.94" stroke="#231f20" stroke-width="0.7" stroke-linecap="butt"/>
<line x1="403.8" y1="266.4" x2="406.2" y2="266.4" stroke="#231f20" stroke-width="1" stroke-linecap="butt"/>
<line x1="403.8" y1="262.88" x2="405.3" y2="262.88" stroke="#231f20" stroke-width="0.7" stroke-linecap="butt"/>
<line x1="403.8" y1="260.82" x2="405.3" y2="260.82" stroke="#231f20" stroke-width="0.7" stroke-linecap="butt"/>
<line x1="403.8" y1="259.36" x2="405.3" y2="259.36" stroke="#231f20" stroke-width="0.7" stroke-linecap="butt"/>
<line x1="403.8" y1="258.22" x2="405.3" y2="258.22" stroke="#231f20" stroke-width="0.7" stroke-linecap="butt"/>
<line x1="403.8" y1="257.3" x2="405.3" y2="257.3" stroke="#231f20" stroke-width="0.7" stroke-linecap="butt"/>
<line x1="403.8" y1="256.51" x2="405.3" y2="256.51" stroke="#231f20" stroke-width="0.7" stroke-linecap="butt"/>
<line x1="403.8" y1="255.83" x2="405.3" y2="255.83" stroke="#231f20" stroke-width="0.7" stroke-linecap="butt"/>
<line x1="403.8" y1="255.24" x2="405.3" y2="255.24" stroke="#231f20" stroke-width="0.7" stroke-linecap="butt"/>
<line x1="403.8" y1="254.7" x2="406.2" y2="254.7" stroke="#231f20" stroke-width="1" stroke-linecap="butt"/>
<line x1="403.8" y1="251.18" x2="405.3" y2="251.18" stroke="#231f20" stroke-width="0.7" stroke-linecap="butt"/>
<line x1="403.8" y1="249.12" x2="405.3" y2="249.12" stroke="#231f20" stroke-width="0.7" stroke-linecap="butt"/>
<line x1="403.8" y1="247.66" x2="405.3" y2="247.66" stroke="#231f20" stroke-width="0.7" stroke-linecap="butt"/>
<line x1="403.8" y1="246.52" x2="405.3" y2="246.52" stroke="#231f20" stroke-width="0.7" stroke-linecap="butt"/>
<line x1="403.8" y1="245.6" x2="405.3" y2="245.6" stroke="#231f20" stroke-width="0.7" stroke-linecap="butt"/>
<line x1="403.8" y1="244.81" x2="405.3" y2="244.81" stroke="#231f20" stroke-width="0.7" stroke-linecap="butt"/>
<line x1="403.8" y1="244.13" x2="405.3" y2="244.13" stroke="#231f20" stroke-width="0.7" stroke-linecap="butt"/>
<line x1="403.8" y1="243.54" x2="405.3" y2="243.54" stroke="#231f20" stroke-width="0.7" stroke-linecap="butt"/>
<line x1="403.8" y1="243" x2="406.2" y2="243" stroke="#231f20" stroke-width="1" stroke-linecap="butt"/>
<text x="410.4" y="246.2" font-size="8" textLength="7.3" lengthAdjust="spacingAndGlyphs" stroke="#231f20" stroke-width="0.12">10</text>
<text x="417.9" y="242.4" font-size="5.6" textLength="3.2" lengthAdjust="spacingAndGlyphs" stroke="#231f20" stroke-width="0.1">6</text>
<text x="410.4" y="258.5" font-size="8" textLength="7.3" lengthAdjust="spacingAndGlyphs" stroke="#231f20" stroke-width="0.12">10</text>
<text x="417.9" y="254.7" font-size="5.6" textLength="3.2" lengthAdjust="spacingAndGlyphs" stroke="#231f20" stroke-width="0.1">5</text>
<text x="410.4" y="270.3" font-size="8" textLength="7.3" lengthAdjust="spacingAndGlyphs" stroke="#231f20" stroke-width="0.12">10</text>
<text x="417.9" y="266.5" font-size="5.6" textLength="3.2" lengthAdjust="spacingAndGlyphs" stroke="#231f20" stroke-width="0.1">4</text>
<text x="410.4" y="282.15" font-size="8" textLength="7.3" lengthAdjust="spacingAndGlyphs" stroke="#231f20" stroke-width="0.12">10</text>
<text x="417.9" y="278.35" font-size="5.6" textLength="3.2" lengthAdjust="spacingAndGlyphs" stroke="#231f20" stroke-width="0.1">3</text>
<text x="410.4" y="291.25" font-size="8" textLength="7.3" lengthAdjust="spacingAndGlyphs" stroke="#231f20" stroke-width="0.12">10</text>
<text x="417.9" y="287.45" font-size="5.6" textLength="3.2" lengthAdjust="spacingAndGlyphs" stroke="#231f20" stroke-width="0.1">2</text>
<text x="410.4" y="306.55" font-size="8" textLength="7.3" lengthAdjust="spacingAndGlyphs" stroke="#231f20" stroke-width="0.12">10</text>
<text x="417.9" y="302.75" font-size="5.6" textLength="3.2" lengthAdjust="spacingAndGlyphs" stroke="#231f20" stroke-width="0.1">1</text>
<text x="410.4" y="298" font-size="7.9" textLength="15.3" lengthAdjust="spacingAndGlyphs" stroke="#231f20" stroke-width="0.12">LOD</text>
<text x="296.1" y="271.1" font-size="10" text-anchor="middle" textLength="57.5" lengthAdjust="spacingAndGlyphs" fill="#7bbd57" stroke="#7bbd57" stroke-width="0.2" transform="rotate(-90 296.1 271.1)">% CAR+ of CD3+</text>
<text x="443.5" y="269.9" font-size="9.2" text-anchor="middle" textLength="75.5" lengthAdjust="spacingAndGlyphs" fill="#de9c40" stroke="#de9c40" stroke-width="0.2" transform="rotate(90 443.5 269.9)">SHIV plasma viral load</text>
<text x="432.6" y="271" font-size="9.2" text-anchor="middle" textLength="94" lengthAdjust="spacingAndGlyphs" fill="#de9c40" stroke="#de9c40" stroke-width="0.2" transform="rotate(90 432.6 271)">(RNA copies per mL plasma)</text>
<polyline points="315.7,296.3 319.2,295.4 341.9,295.4 345.7,276.2 350.3,284.5 353.9,294.3 356.5,294 359.4,296.6 362.4,288.1 364.4,285.1 367.6,293.7 374.2,287.2 378.1,292.7 383.3,289.4 389.2,295.6 395.1,287.5 399.7,291.4" fill="none" stroke="#eba54a" stroke-width="1.35" stroke-linejoin="round" stroke-linecap="round"/>
<polyline points="315.7,301.5 319.2,298 321.3,286.7 323.5,291 327.9,249.2 329.7,282.3 332.3,298 334.9,297.2 340.1,296.3 344.5,299.8 348,285.8 350,290 352.6,299.2 355.2,301.2 359.8,299.9 363.1,301.6 367.3,294.6 370.3,300.5 373.5,297 378.1,301.6 382.5,301.6 386.3,297.3 390.5,300.5 394.4,301.6 399.7,299.9" fill="none" stroke="#7bbd57" stroke-width="1.05" stroke-linejoin="round" stroke-linecap="round"/>
<circle cx="351" cy="282" r="1.2" fill="#2a2a2a"/>
<circle cx="354.5" cy="282" r="1.2" fill="#2a2a2a"/>
<circle cx="358" cy="282" r="1.2" fill="#2a2a2a"/>
<circle cx="361.6" cy="282" r="1.2" fill="#2a2a2a"/>
<text x="180.9" y="353.2" font-size="10" text-anchor="middle" textLength="33" lengthAdjust="spacingAndGlyphs" stroke="#231f20" stroke-width="0.1">A15106</text>
<line x1="137.6" y1="417.7" x2="224.5" y2="417.7" stroke="#8a8a8a" stroke-width="0.9" stroke-linecap="butt" stroke-dasharray="1 0.9"/>
<line x1="144" y1="362.3" x2="144" y2="423.3" stroke="#606060" stroke-width="0.8" stroke-linecap="butt" stroke-dasharray="1 1.1"/>
<line x1="148.8" y1="362.3" x2="148.8" y2="423.3" stroke="#333" stroke-width="0.8" stroke-linecap="butt" stroke-dasharray="1 1.1"/>
<circle cx="136.6" cy="359.9" r="1.6" fill="#fff" stroke="#111" stroke-width="0.9"/>
<circle cx="144" cy="359.9" r="1.9" fill="#555"/>
<circle cx="148.8" cy="359.9" r="1.9" fill="#111"/>
<line x1="136.6" y1="363.7" x2="136.6" y2="425.9" stroke="#231f20" stroke-width="1.2" stroke-linecap="butt"/>
<line x1="136.6" y1="423.3" x2="224.5" y2="423.3" stroke="#231f20" stroke-width="1.2" stroke-linecap="butt"/>
<line x1="224.5" y1="362.7" x2="224.5" y2="423.3" stroke="#231f20" stroke-width="1.2" stroke-linecap="butt"/>
<line x1="134" y1="423.3" x2="136.6" y2="423.3" stroke="#231f20" stroke-width="1" stroke-linecap="butt"/>
<text x="131.4" y="426.1" font-size="9" text-anchor="end" textLength="4.4" lengthAdjust="spacingAndGlyphs" stroke="#231f20" stroke-width="0.2">0</text>
<line x1="134" y1="408.75" x2="136.6" y2="408.75" stroke="#231f20" stroke-width="1" stroke-linecap="butt"/>
<text x="131.4" y="411.55" font-size="9" text-anchor="end" textLength="8.8" lengthAdjust="spacingAndGlyphs" stroke="#231f20" stroke-width="0.2">10</text>
<line x1="134" y1="394.2" x2="136.6" y2="394.2" stroke="#231f20" stroke-width="1" stroke-linecap="butt"/>
<text x="131.4" y="397" font-size="9" text-anchor="end" textLength="8.8" lengthAdjust="spacingAndGlyphs" stroke="#231f20" stroke-width="0.2">20</text>
<line x1="134" y1="379.65" x2="136.6" y2="379.65" stroke="#231f20" stroke-width="1" stroke-linecap="butt"/>
<text x="131.4" y="382.45" font-size="9" text-anchor="end" textLength="8.8" lengthAdjust="spacingAndGlyphs" stroke="#231f20" stroke-width="0.2">30</text>
<line x1="134" y1="365.1" x2="136.6" y2="365.1" stroke="#231f20" stroke-width="1" stroke-linecap="butt"/>
<text x="131.4" y="367.9" font-size="9" text-anchor="end" textLength="8.8" lengthAdjust="spacingAndGlyphs" stroke="#231f20" stroke-width="0.2">40</text>
<text x="136.6" y="436.5" font-size="9" text-anchor="middle" textLength="4.4" lengthAdjust="spacingAndGlyphs" stroke="#231f20" stroke-width="0.2">0</text>
<line x1="155.95" y1="423.3" x2="155.95" y2="425.9" stroke="#231f20" stroke-width="1" stroke-linecap="butt"/>
<line x1="175.3" y1="423.3" x2="175.3" y2="425.9" stroke="#231f20" stroke-width="1" stroke-linecap="butt"/>
<text x="175.3" y="436.5" font-size="9" text-anchor="middle" textLength="13.2" lengthAdjust="spacingAndGlyphs" stroke="#231f20" stroke-width="0.2">100</text>
<line x1="194.65" y1="423.3" x2="194.65" y2="425.9" stroke="#231f20" stroke-width="1" stroke-linecap="butt"/>
<line x1="214" y1="423.3" x2="214" y2="425.9" stroke="#231f20" stroke-width="1" stroke-linecap="butt"/>
<text x="214" y="436.5" font-size="9" text-anchor="middle" textLength="13.2" lengthAdjust="spacingAndGlyphs" stroke="#231f20" stroke-width="0.2">200</text>
<text x="180.1" y="450" font-size="9.8" text-anchor="middle" textLength="80.8" lengthAdjust="spacingAndGlyphs" stroke="#231f20" stroke-width="0.2">Days post CAR T infusion</text>
<line x1="224.5" y1="423.3" x2="226.9" y2="423.3" stroke="#231f20" stroke-width="1" stroke-linecap="butt"/>
<line x1="224.5" y1="419.78" x2="226" y2="419.78" stroke="#231f20" stroke-width="0.7" stroke-linecap="butt"/>
<line x1="224.5" y1="417.72" x2="226" y2="417.72" stroke="#231f20" stroke-width="0.7" stroke-linecap="butt"/>
<line x1="224.5" y1="416.26" x2="226" y2="416.26" stroke="#231f20" stroke-width="0.7" stroke-linecap="butt"/>
<line x1="224.5" y1="415.12" x2="226" y2="415.12" stroke="#231f20" stroke-width="0.7" stroke-linecap="butt"/>
<line x1="224.5" y1="414.2" x2="226" y2="414.2" stroke="#231f20" stroke-width="0.7" stroke-linecap="butt"/>
<line x1="224.5" y1="413.41" x2="226" y2="413.41" stroke="#231f20" stroke-width="0.7" stroke-linecap="butt"/>
<line x1="224.5" y1="412.73" x2="226" y2="412.73" stroke="#231f20" stroke-width="0.7" stroke-linecap="butt"/>
<line x1="224.5" y1="412.14" x2="226" y2="412.14" stroke="#231f20" stroke-width="0.7" stroke-linecap="butt"/>
<line x1="224.5" y1="411.6" x2="226.9" y2="411.6" stroke="#231f20" stroke-width="1" stroke-linecap="butt"/>
<line x1="224.5" y1="408.08" x2="226" y2="408.08" stroke="#231f20" stroke-width="0.7" stroke-linecap="butt"/>
<line x1="224.5" y1="406.02" x2="226" y2="406.02" stroke="#231f20" stroke-width="0.7" stroke-linecap="butt"/>
<line x1="224.5" y1="404.56" x2="226" y2="404.56" stroke="#231f20" stroke-width="0.7" stroke-linecap="butt"/>
<line x1="224.5" y1="403.42" x2="226" y2="403.42" stroke="#231f20" stroke-width="0.7" stroke-linecap="butt"/>
<line x1="224.5" y1="402.5" x2="226" y2="402.5" stroke="#231f20" stroke-width="0.7" stroke-linecap="butt"/>
<line x1="224.5" y1="401.71" x2="226" y2="401.71" stroke="#231f20" stroke-width="0.7" stroke-linecap="butt"/>
<line x1="224.5" y1="401.03" x2="226" y2="401.03" stroke="#231f20" stroke-width="0.7" stroke-linecap="butt"/>
<line x1="224.5" y1="400.44" x2="226" y2="400.44" stroke="#231f20" stroke-width="0.7" stroke-linecap="butt"/>
<line x1="224.5" y1="399.9" x2="226.9" y2="399.9" stroke="#231f20" stroke-width="1" stroke-linecap="butt"/>
<line x1="224.5" y1="396.38" x2="226" y2="396.38" stroke="#231f20" stroke-width="0.7" stroke-linecap="butt"/>
<line x1="224.5" y1="394.32" x2="226" y2="394.32" stroke="#231f20" stroke-width="0.7" stroke-linecap="butt"/>
<line x1="224.5" y1="392.86" x2="226" y2="392.86" stroke="#231f20" stroke-width="0.7" stroke-linecap="butt"/>
<line x1="224.5" y1="391.72" x2="226" y2="391.72" stroke="#231f20" stroke-width="0.7" stroke-linecap="butt"/>
<line x1="224.5" y1="390.8" x2="226" y2="390.8" stroke="#231f20" stroke-width="0.7" stroke-linecap="butt"/>
<line x1="224.5" y1="390.01" x2="226" y2="390.01" stroke="#231f20" stroke-width="0.7" stroke-linecap="butt"/>
<line x1="224.5" y1="389.33" x2="226" y2="389.33" stroke="#231f20" stroke-width="0.7" stroke-linecap="butt"/>
<line x1="224.5" y1="388.74" x2="226" y2="388.74" stroke="#231f20" stroke-width="0.7" stroke-linecap="butt"/>
<line x1="224.5" y1="388.2" x2="226.9" y2="388.2" stroke="#231f20" stroke-width="1" stroke-linecap="butt"/>
<line x1="224.5" y1="384.68" x2="226" y2="384.68" stroke="#231f20" stroke-width="0.7" stroke-linecap="butt"/>
<line x1="224.5" y1="382.62" x2="226" y2="382.62" stroke="#231f20" stroke-width="0.7" stroke-linecap="butt"/>
<line x1="224.5" y1="381.16" x2="226" y2="381.16" stroke="#231f20" stroke-width="0.7" stroke-linecap="butt"/>
<line x1="224.5" y1="380.02" x2="226" y2="380.02" stroke="#231f20" stroke-width="0.7" stroke-linecap="butt"/>
<line x1="224.5" y1="379.1" x2="226" y2="379.1" stroke="#231f20" stroke-width="0.7" stroke-linecap="butt"/>
<line x1="224.5" y1="378.31" x2="226" y2="378.31" stroke="#231f20" stroke-width="0.7" stroke-linecap="butt"/>
<line x1="224.5" y1="377.63" x2="226" y2="377.63" stroke="#231f20" stroke-width="0.7" stroke-linecap="butt"/>
<line x1="224.5" y1="377.04" x2="226" y2="377.04" stroke="#231f20" stroke-width="0.7" stroke-linecap="butt"/>
<line x1="224.5" y1="376.5" x2="226.9" y2="376.5" stroke="#231f20" stroke-width="1" stroke-linecap="butt"/>
<line x1="224.5" y1="372.98" x2="226" y2="372.98" stroke="#231f20" stroke-width="0.7" stroke-linecap="butt"/>
<line x1="224.5" y1="370.92" x2="226" y2="370.92" stroke="#231f20" stroke-width="0.7" stroke-linecap="butt"/>
<line x1="224.5" y1="369.46" x2="226" y2="369.46" stroke="#231f20" stroke-width="0.7" stroke-linecap="butt"/>
<line x1="224.5" y1="368.32" x2="226" y2="368.32" stroke="#231f20" stroke-width="0.7" stroke-linecap="butt"/>
<line x1="224.5" y1="367.4" x2="226" y2="367.4" stroke="#231f20" stroke-width="0.7" stroke-linecap="butt"/>
<line x1="224.5" y1="366.61" x2="226" y2="366.61" stroke="#231f20" stroke-width="0.7" stroke-linecap="butt"/>
<line x1="224.5" y1="365.93" x2="226" y2="365.93" stroke="#231f20" stroke-width="0.7" stroke-linecap="butt"/>
<line x1="224.5" y1="365.34" x2="226" y2="365.34" stroke="#231f20" stroke-width="0.7" stroke-linecap="butt"/>
<line x1="224.5" y1="364.8" x2="226.9" y2="364.8" stroke="#231f20" stroke-width="1" stroke-linecap="butt"/>
<text x="231.1" y="368" font-size="8" textLength="7.3" lengthAdjust="spacingAndGlyphs" stroke="#231f20" stroke-width="0.12">10</text>
<text x="238.6" y="364.2" font-size="5.6" textLength="3.2" lengthAdjust="spacingAndGlyphs" stroke="#231f20" stroke-width="0.1">6</text>
<text x="231.1" y="380.3" font-size="8" textLength="7.3" lengthAdjust="spacingAndGlyphs" stroke="#231f20" stroke-width="0.12">10</text>
<text x="238.6" y="376.5" font-size="5.6" textLength="3.2" lengthAdjust="spacingAndGlyphs" stroke="#231f20" stroke-width="0.1">5</text>
<text x="231.1" y="392.1" font-size="8" textLength="7.3" lengthAdjust="spacingAndGlyphs" stroke="#231f20" stroke-width="0.12">10</text>
<text x="238.6" y="388.3" font-size="5.6" textLength="3.2" lengthAdjust="spacingAndGlyphs" stroke="#231f20" stroke-width="0.1">4</text>
<text x="231.1" y="403.95" font-size="8" textLength="7.3" lengthAdjust="spacingAndGlyphs" stroke="#231f20" stroke-width="0.12">10</text>
<text x="238.6" y="400.15" font-size="5.6" textLength="3.2" lengthAdjust="spacingAndGlyphs" stroke="#231f20" stroke-width="0.1">3</text>
<text x="231.1" y="413.05" font-size="8" textLength="7.3" lengthAdjust="spacingAndGlyphs" stroke="#231f20" stroke-width="0.12">10</text>
<text x="238.6" y="409.25" font-size="5.6" textLength="3.2" lengthAdjust="spacingAndGlyphs" stroke="#231f20" stroke-width="0.1">2</text>
<text x="231.1" y="428.35" font-size="8" textLength="7.3" lengthAdjust="spacingAndGlyphs" stroke="#231f20" stroke-width="0.12">10</text>
<text x="238.6" y="424.55" font-size="5.6" textLength="3.2" lengthAdjust="spacingAndGlyphs" stroke="#231f20" stroke-width="0.1">1</text>
<text x="231.1" y="419.8" font-size="7.9" textLength="15.3" lengthAdjust="spacingAndGlyphs" stroke="#231f20" stroke-width="0.12">LOD</text>
<text x="118.4" y="392.9" font-size="10" text-anchor="middle" textLength="57.5" lengthAdjust="spacingAndGlyphs" fill="#66449a" stroke="#66449a" stroke-width="0.2" transform="rotate(-90 118.4 392.9)">% CAR+ of CD3+</text>
<text x="264.6" y="391.7" font-size="9.2" text-anchor="middle" textLength="75.5" lengthAdjust="spacingAndGlyphs" fill="#de9c40" stroke="#de9c40" stroke-width="0.2" transform="rotate(90 264.6 391.7)">SHIV plasma viral load</text>
<text x="253" y="392.8" font-size="9.2" text-anchor="middle" textLength="94" lengthAdjust="spacingAndGlyphs" fill="#de9c40" stroke="#de9c40" stroke-width="0.2" transform="rotate(90 253 392.8)">(RNA copies per mL plasma)</text>
<polyline points="136.6,417.2 138.3,415.4 140.9,417.7 158.4,417.7 161,411.9 164,387.5 166.7,396.2 169.7,391 172.6,405.8 174.4,407.6 177.3,411.4 183.1,403.2 187.4,402.3 190.9,405.5 193.5,397.1 196.2,400.2 198.3,394.5 204.9,400.6 207.5,399.7 209.8,400.6 212.7,392.7 218,402.3 220.9,404.4 224.1,396.7" fill="none" stroke="#eba54a" stroke-width="1.35" stroke-linejoin="round" stroke-linecap="round"/>
<polyline points="136.6,423.3 139.2,418.9 142.3,421.5 146.2,419.8 148.3,420.6 150,377.9 152.8,418 155.8,422.9 158.4,420.6 166.2,421.5 170.6,422.4 173.5,420.6 177,422.9 187.4,422.9 190.9,418.4 193.5,422.4 196.2,421.2 199.7,422.9 207.5,421.5 215,422.5 222.3,422.9" fill="none" stroke="#66449a" stroke-width="1.05" stroke-linejoin="round" stroke-linecap="round"/>
<text x="359.5" y="353.3" font-size="10" text-anchor="middle" textLength="33" lengthAdjust="spacingAndGlyphs" stroke="#231f20" stroke-width="0.1">A15108</text>
<line x1="316.8" y1="417.7" x2="403.4" y2="417.7" stroke="#8a8a8a" stroke-width="0.9" stroke-linecap="butt" stroke-dasharray="1 0.9"/>
<line x1="323.2" y1="362.3" x2="323.2" y2="423.3" stroke="#606060" stroke-width="0.8" stroke-linecap="butt" stroke-dasharray="1 1.1"/>
<line x1="328" y1="362.3" x2="328" y2="423.3" stroke="#333" stroke-width="0.8" stroke-linecap="butt" stroke-dasharray="1 1.1"/>
<circle cx="315.8" cy="359.9" r="1.6" fill="#fff" stroke="#111" stroke-width="0.9"/>
<circle cx="323.2" cy="359.9" r="1.9" fill="#555"/>
<circle cx="328" cy="359.9" r="1.9" fill="#111"/>
<line x1="315.8" y1="363.7" x2="315.8" y2="425.9" stroke="#231f20" stroke-width="1.2" stroke-linecap="butt"/>
<line x1="315.8" y1="423.3" x2="403.4" y2="423.3" stroke="#231f20" stroke-width="1.2" stroke-linecap="butt"/>
<line x1="403.4" y1="362.7" x2="403.4" y2="423.3" stroke="#231f20" stroke-width="1.2" stroke-linecap="butt"/>
<line x1="313.2" y1="423.3" x2="315.8" y2="423.3" stroke="#231f20" stroke-width="1" stroke-linecap="butt"/>
<text x="310.6" y="426.1" font-size="9" text-anchor="end" textLength="4.4" lengthAdjust="spacingAndGlyphs" stroke="#231f20" stroke-width="0.2">0</text>
<line x1="313.2" y1="411.66" x2="315.8" y2="411.66" stroke="#231f20" stroke-width="1" stroke-linecap="butt"/>
<text x="310.6" y="414.46" font-size="9" text-anchor="end" textLength="8.8" lengthAdjust="spacingAndGlyphs" stroke="#231f20" stroke-width="0.2">10</text>
<line x1="313.2" y1="400.02" x2="315.8" y2="400.02" stroke="#231f20" stroke-width="1" stroke-linecap="butt"/>
<text x="310.6" y="402.82" font-size="9" text-anchor="end" textLength="8.8" lengthAdjust="spacingAndGlyphs" stroke="#231f20" stroke-width="0.2">20</text>
<line x1="313.2" y1="388.38" x2="315.8" y2="388.38" stroke="#231f20" stroke-width="1" stroke-linecap="butt"/>
<text x="310.6" y="391.18" font-size="9" text-anchor="end" textLength="8.8" lengthAdjust="spacingAndGlyphs" stroke="#231f20" stroke-width="0.2">30</text>
<line x1="313.2" y1="376.74" x2="315.8" y2="376.74" stroke="#231f20" stroke-width="1" stroke-linecap="butt"/>
<text x="310.6" y="379.54" font-size="9" text-anchor="end" textLength="8.8" lengthAdjust="spacingAndGlyphs" stroke="#231f20" stroke-width="0.2">40</text>
<line x1="313.2" y1="365.1" x2="315.8" y2="365.1" stroke="#231f20" stroke-width="1" stroke-linecap="butt"/>
<text x="310.6" y="367.9" font-size="9" text-anchor="end" textLength="8.8" lengthAdjust="spacingAndGlyphs" stroke="#231f20" stroke-width="0.2">50</text>
<text x="315.8" y="436.5" font-size="9" text-anchor="middle" textLength="4.4" lengthAdjust="spacingAndGlyphs" stroke="#231f20" stroke-width="0.2">0</text>
<line x1="335.15" y1="423.3" x2="335.15" y2="425.9" stroke="#231f20" stroke-width="1" stroke-linecap="butt"/>
<text x="335.15" y="436.5" font-size="9" text-anchor="middle" textLength="8.8" lengthAdjust="spacingAndGlyphs" stroke="#231f20" stroke-width="0.2">50</text>
<line x1="354.5" y1="423.3" x2="354.5" y2="425.9" stroke="#231f20" stroke-width="1" stroke-linecap="butt"/>
<text x="354.5" y="436.5" font-size="9" text-anchor="middle" textLength="13.2" lengthAdjust="spacingAndGlyphs" stroke="#231f20" stroke-width="0.2">100</text>
<line x1="373.85" y1="423.3" x2="373.85" y2="425.9" stroke="#231f20" stroke-width="1" stroke-linecap="butt"/>
<text x="373.85" y="436.5" font-size="9" text-anchor="middle" textLength="13.2" lengthAdjust="spacingAndGlyphs" stroke="#231f20" stroke-width="0.2">150</text>
<line x1="393.2" y1="423.3" x2="393.2" y2="425.9" stroke="#231f20" stroke-width="1" stroke-linecap="butt"/>
<text x="393.2" y="436.5" font-size="9" text-anchor="middle" textLength="13.2" lengthAdjust="spacingAndGlyphs" stroke="#231f20" stroke-width="0.2">200</text>
<text x="359.3" y="450" font-size="9.8" text-anchor="middle" textLength="80.8" lengthAdjust="spacingAndGlyphs" stroke="#231f20" stroke-width="0.2">Days post CAR T infusion</text>
<line x1="403.4" y1="423.3" x2="405.8" y2="423.3" stroke="#231f20" stroke-width="1" stroke-linecap="butt"/>
<line x1="403.4" y1="419.78" x2="404.9" y2="419.78" stroke="#231f20" stroke-width="0.7" stroke-linecap="butt"/>
<line x1="403.4" y1="417.72" x2="404.9" y2="417.72" stroke="#231f20" stroke-width="0.7" stroke-linecap="butt"/>
<line x1="403.4" y1="416.26" x2="404.9" y2="416.26" stroke="#231f20" stroke-width="0.7" stroke-linecap="butt"/>
<line x1="403.4" y1="415.12" x2="404.9" y2="415.12" stroke="#231f20" stroke-width="0.7" stroke-linecap="butt"/>
<line x1="403.4" y1="414.2" x2="404.9" y2="414.2" stroke="#231f20" stroke-width="0.7" stroke-linecap="butt"/>
<line x1="403.4" y1="413.41" x2="404.9" y2="413.41" stroke="#231f20" stroke-width="0.7" stroke-linecap="butt"/>
<line x1="403.4" y1="412.73" x2="404.9" y2="412.73" stroke="#231f20" stroke-width="0.7" stroke-linecap="butt"/>
<line x1="403.4" y1="412.14" x2="404.9" y2="412.14" stroke="#231f20" stroke-width="0.7" stroke-linecap="butt"/>
<line x1="403.4" y1="411.6" x2="405.8" y2="411.6" stroke="#231f20" stroke-width="1" stroke-linecap="butt"/>
<line x1="403.4" y1="408.08" x2="404.9" y2="408.08" stroke="#231f20" stroke-width="0.7" stroke-linecap="butt"/>
<line x1="403.4" y1="406.02" x2="404.9" y2="406.02" stroke="#231f20" stroke-width="0.7" stroke-linecap="butt"/>
<line x1="403.4" y1="404.56" x2="404.9" y2="404.56" stroke="#231f20" stroke-width="0.7" stroke-linecap="butt"/>
<line x1="403.4" y1="403.42" x2="404.9" y2="403.42" stroke="#231f20" stroke-width="0.7" stroke-linecap="butt"/>
<line x1="403.4" y1="402.5" x2="404.9" y2="402.5" stroke="#231f20" stroke-width="0.7" stroke-linecap="butt"/>
<line x1="403.4" y1="401.71" x2="404.9" y2="401.71" stroke="#231f20" stroke-width="0.7" stroke-linecap="butt"/>
<line x1="403.4" y1="401.03" x2="404.9" y2="401.03" stroke="#231f20" stroke-width="0.7" stroke-linecap="butt"/>
<line x1="403.4" y1="400.44" x2="404.9" y2="400.44" stroke="#231f20" stroke-width="0.7" stroke-linecap="butt"/>
<line x1="403.4" y1="399.9" x2="405.8" y2="399.9" stroke="#231f20" stroke-width="1" stroke-linecap="butt"/>
<line x1="403.4" y1="396.38" x2="404.9" y2="396.38" stroke="#231f20" stroke-width="0.7" stroke-linecap="butt"/>
<line x1="403.4" y1="394.32" x2="404.9" y2="394.32" stroke="#231f20" stroke-width="0.7" stroke-linecap="butt"/>
<line x1="403.4" y1="392.86" x2="404.9" y2="392.86" stroke="#231f20" stroke-width="0.7" stroke-linecap="butt"/>
<line x1="403.4" y1="391.72" x2="404.9" y2="391.72" stroke="#231f20" stroke-width="0.7" stroke-linecap="butt"/>
<line x1="403.4" y1="390.8" x2="404.9" y2="390.8" stroke="#231f20" stroke-width="0.7" stroke-linecap="butt"/>
<line x1="403.4" y1="390.01" x2="404.9" y2="390.01" stroke="#231f20" stroke-width="0.7" stroke-linecap="butt"/>
<line x1="403.4" y1="389.33" x2="404.9" y2="389.33" stroke="#231f20" stroke-width="0.7" stroke-linecap="butt"/>
<line x1="403.4" y1="388.74" x2="404.9" y2="388.74" stroke="#231f20" stroke-width="0.7" stroke-linecap="butt"/>
<line x1="403.4" y1="388.2" x2="405.8" y2="388.2" stroke="#231f20" stroke-width="1" stroke-linecap="butt"/>
<line x1="403.4" y1="384.68" x2="404.9" y2="384.68" stroke="#231f20" stroke-width="0.7" stroke-linecap="butt"/>
<line x1="403.4" y1="382.62" x2="404.9" y2="382.62" stroke="#231f20" stroke-width="0.7" stroke-linecap="butt"/>
<line x1="403.4" y1="381.16" x2="404.9" y2="381.16" stroke="#231f20" stroke-width="0.7" stroke-linecap="butt"/>
<line x1="403.4" y1="380.02" x2="404.9" y2="380.02" stroke="#231f20" stroke-width="0.7" stroke-linecap="butt"/>
<line x1="403.4" y1="379.1" x2="404.9" y2="379.1" stroke="#231f20" stroke-width="0.7" stroke-linecap="butt"/>
<line x1="403.4" y1="378.31" x2="404.9" y2="378.31" stroke="#231f20" stroke-width="0.7" stroke-linecap="butt"/>
<line x1="403.4" y1="377.63" x2="404.9" y2="377.63" stroke="#231f20" stroke-width="0.7" stroke-linecap="butt"/>
<line x1="403.4" y1="377.04" x2="404.9" y2="377.04" stroke="#231f20" stroke-width="0.7" stroke-linecap="butt"/>
<line x1="403.4" y1="376.5" x2="405.8" y2="376.5" stroke="#231f20" stroke-width="1" stroke-linecap="butt"/>
<line x1="403.4" y1="372.98" x2="404.9" y2="372.98" stroke="#231f20" stroke-width="0.7" stroke-linecap="butt"/>
<line x1="403.4" y1="370.92" x2="404.9" y2="370.92" stroke="#231f20" stroke-width="0.7" stroke-linecap="butt"/>
<line x1="403.4" y1="369.46" x2="404.9" y2="369.46" stroke="#231f20" stroke-width="0.7" stroke-linecap="butt"/>
<line x1="403.4" y1="368.32" x2="404.9" y2="368.32" stroke="#231f20" stroke-width="0.7" stroke-linecap="butt"/>
<line x1="403.4" y1="367.4" x2="404.9" y2="367.4" stroke="#231f20" stroke-width="0.7" stroke-linecap="butt"/>
<line x1="403.4" y1="366.61" x2="404.9" y2="366.61" stroke="#231f20" stroke-width="0.7" stroke-linecap="butt"/>
<line x1="403.4" y1="365.93" x2="404.9" y2="365.93" stroke="#231f20" stroke-width="0.7" stroke-linecap="butt"/>
<line x1="403.4" y1="365.34" x2="404.9" y2="365.34" stroke="#231f20" stroke-width="0.7" stroke-linecap="butt"/>
<line x1="403.4" y1="364.8" x2="405.8" y2="364.8" stroke="#231f20" stroke-width="1" stroke-linecap="butt"/>
<text x="410" y="368" font-size="8" textLength="7.3" lengthAdjust="spacingAndGlyphs" stroke="#231f20" stroke-width="0.12">10</text>
<text x="417.5" y="364.2" font-size="5.6" textLength="3.2" lengthAdjust="spacingAndGlyphs" stroke="#231f20" stroke-width="0.1">6</text>
<text x="410" y="380.3" font-size="8" textLength="7.3" lengthAdjust="spacingAndGlyphs" stroke="#231f20" stroke-width="0.12">10</text>
<text x="417.5" y="376.5" font-size="5.6" textLength="3.2" lengthAdjust="spacingAndGlyphs" stroke="#231f20" stroke-width="0.1">5</text>
<text x="410" y="392.1" font-size="8" textLength="7.3" lengthAdjust="spacingAndGlyphs" stroke="#231f20" stroke-width="0.12">10</text>
<text x="417.5" y="388.3" font-size="5.6" textLength="3.2" lengthAdjust="spacingAndGlyphs" stroke="#231f20" stroke-width="0.1">4</text>
<text x="410" y="403.95" font-size="8" textLength="7.3" lengthAdjust="spacingAndGlyphs" stroke="#231f20" stroke-width="0.12">10</text>
<text x="417.5" y="400.15" font-size="5.6" textLength="3.2" lengthAdjust="spacingAndGlyphs" stroke="#231f20" stroke-width="0.1">3</text>
<text x="410" y="413.05" font-size="8" textLength="7.3" lengthAdjust="spacingAndGlyphs" stroke="#231f20" stroke-width="0.12">10</text>
<text x="417.5" y="409.25" font-size="5.6" textLength="3.2" lengthAdjust="spacingAndGlyphs" stroke="#231f20" stroke-width="0.1">2</text>
<text x="410" y="428.35" font-size="8" textLength="7.3" lengthAdjust="spacingAndGlyphs" stroke="#231f20" stroke-width="0.12">10</text>
<text x="417.5" y="424.55" font-size="5.6" textLength="3.2" lengthAdjust="spacingAndGlyphs" stroke="#231f20" stroke-width="0.1">1</text>
<text x="410" y="419.8" font-size="7.9" textLength="15.3" lengthAdjust="spacingAndGlyphs" stroke="#231f20" stroke-width="0.12">LOD</text>
<text x="296.5" y="392.9" font-size="10" text-anchor="middle" textLength="57.5" lengthAdjust="spacingAndGlyphs" fill="#be2c55" stroke="#be2c55" stroke-width="0.2" transform="rotate(-90 296.5 392.9)">% CAR+ of CD3+</text>
<text x="443.5" y="391.7" font-size="9.2" text-anchor="middle" textLength="75.5" lengthAdjust="spacingAndGlyphs" fill="#de9c40" stroke="#de9c40" stroke-width="0.2" transform="rotate(90 443.5 391.7)">SHIV plasma viral load</text>
<text x="431.9" y="392.8" font-size="9.2" text-anchor="middle" textLength="94" lengthAdjust="spacingAndGlyphs" fill="#de9c40" stroke="#de9c40" stroke-width="0.2" transform="rotate(90 431.9 392.8)">(RNA copies per mL plasma)</text>
<polyline points="315.8,416.3 317,414.5 318.8,417.2 332.7,417.2 334.5,410.2 337.1,397.1 339.7,395.7 344.1,397.1 348.1,399.4 353.7,391.9 357.2,395.7 361.6,395.7 364.2,394.5 367.3,396.7 370.3,392.7 373.8,396.7 376,397.4 378.5,400.6 382.5,400.6 384.2,401.5 386.9,399.4 390,404.4 394.7,398.8 397.3,402 400,403.2 403.4,405.8" fill="none" stroke="#eba54a" stroke-width="1.35" stroke-linejoin="round" stroke-linecap="round"/>
<polyline points="315.8,423.3 317.9,419.8 320,421.9 325.8,420.6 327,419.8 329.8,377.9 331.9,418.9 334.5,422.9 340.6,421.5 343,421.2 346.7,422.9 351,422.9 353.7,421.2 356,422.9 368,422.9 370.3,420.6 372.5,422.9 376,421.5 379,422.9 392,422.9 394.7,421.5 397,422.9 403.4,422.9" fill="none" stroke="#be2c55" stroke-width="1.05" stroke-linejoin="round" stroke-linecap="round"/>
<text x="69.6" y="273.8" font-size="10" textLength="34.6" lengthAdjust="spacingAndGlyphs" stroke="#231f20" stroke-width="0.08">Group 1</text>
<text x="69.8" y="395.9" font-size="10" textLength="35" lengthAdjust="spacingAndGlyphs" stroke="#231f20" stroke-width="0.08">Group 2</text>
</g></svg>
</body></html>
